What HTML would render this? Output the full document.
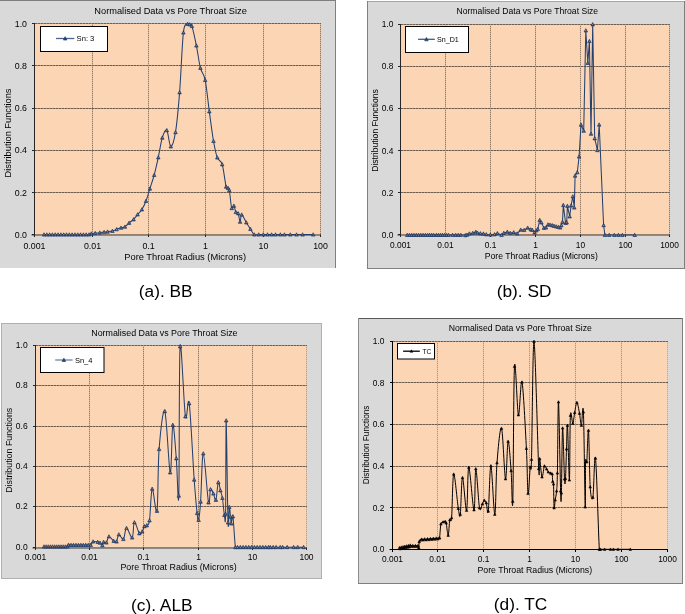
<!DOCTYPE html>
<html><head><meta charset="utf-8"><style>
html,body{margin:0;padding:0;background:#fff;}
body{width:685px;height:614px;overflow:hidden;}
svg{display:block;will-change:transform;}
text{font-family:"Liberation Sans", sans-serif;fill:#000;}
</style></head><body>
<svg width="685" height="614" viewBox="0 0 685 614">
<rect x="0" y="0" width="336" height="268" fill="#D9D9D9"/>
<rect x="0" y="0" width="336" height="1" fill="#7F7F7F"/>
<rect x="335" y="0" width="1" height="268" fill="#7F7F7F"/>
<rect x="35" y="23" width="286" height="211.5" fill="#FCD5B5"/>
<line x1="92.5" y1="23" x2="92.5" y2="234.5" stroke="#D2B598" stroke-width="1"/>
<line x1="92.5" y1="23" x2="92.5" y2="234.5" stroke="#927C68" stroke-width="1" stroke-dasharray="1 1"/>
<line x1="148.5" y1="23" x2="148.5" y2="234.5" stroke="#D2B598" stroke-width="1"/>
<line x1="148.5" y1="23" x2="148.5" y2="234.5" stroke="#927C68" stroke-width="1" stroke-dasharray="1 1"/>
<line x1="205.5" y1="23" x2="205.5" y2="234.5" stroke="#D2B598" stroke-width="1"/>
<line x1="205.5" y1="23" x2="205.5" y2="234.5" stroke="#927C68" stroke-width="1" stroke-dasharray="1 1"/>
<line x1="263.5" y1="23" x2="263.5" y2="234.5" stroke="#D2B598" stroke-width="1"/>
<line x1="263.5" y1="23" x2="263.5" y2="234.5" stroke="#927C68" stroke-width="1" stroke-dasharray="1 1"/>
<line x1="320.5" y1="23" x2="320.5" y2="234.5" stroke="#D2B598" stroke-width="1"/>
<line x1="320.5" y1="23" x2="320.5" y2="234.5" stroke="#927C68" stroke-width="1" stroke-dasharray="1 1"/>
<line x1="35" y1="192.5" x2="321" y2="192.5" stroke="#A88E78" stroke-width="1"/>
<line x1="35" y1="192.5" x2="321" y2="192.5" stroke="#6E5E50" stroke-width="1" stroke-dasharray="2 1"/>
<line x1="35" y1="150.5" x2="321" y2="150.5" stroke="#A88E78" stroke-width="1"/>
<line x1="35" y1="150.5" x2="321" y2="150.5" stroke="#6E5E50" stroke-width="1" stroke-dasharray="2 1"/>
<line x1="35" y1="108.5" x2="321" y2="108.5" stroke="#A88E78" stroke-width="1"/>
<line x1="35" y1="108.5" x2="321" y2="108.5" stroke="#6E5E50" stroke-width="1" stroke-dasharray="2 1"/>
<line x1="35" y1="65.5" x2="321" y2="65.5" stroke="#A88E78" stroke-width="1"/>
<line x1="35" y1="65.5" x2="321" y2="65.5" stroke="#6E5E50" stroke-width="1" stroke-dasharray="2 1"/>
<line x1="35" y1="23.5" x2="321" y2="23.5" stroke="#A88E78" stroke-width="1"/>
<line x1="35" y1="23.5" x2="321" y2="23.5" stroke="#6E5E50" stroke-width="1" stroke-dasharray="2 1"/>
<line x1="31.5" y1="234.5" x2="321" y2="234.5" stroke="#957E6A" stroke-width="1"/>
<line x1="31.5" y1="235.5" x2="321" y2="235.5" stroke="#8A8A8A" stroke-width="1"/>
<line x1="34.5" y1="23" x2="34.5" y2="237" stroke="#262626" stroke-width="1"/>
<line x1="32" y1="234.5" x2="34.5" y2="234.5" stroke="#262626" stroke-width="1"/>
<line x1="32" y1="192.5" x2="34.5" y2="192.5" stroke="#262626" stroke-width="1"/>
<line x1="32" y1="150.5" x2="34.5" y2="150.5" stroke="#262626" stroke-width="1"/>
<line x1="32" y1="108.5" x2="34.5" y2="108.5" stroke="#262626" stroke-width="1"/>
<line x1="32" y1="65.5" x2="34.5" y2="65.5" stroke="#262626" stroke-width="1"/>
<line x1="32" y1="23.5" x2="34.5" y2="23.5" stroke="#262626" stroke-width="1"/>
<line x1="92.5" y1="234.5" x2="92.5" y2="237" stroke="#262626" stroke-width="1"/>
<line x1="148.5" y1="234.5" x2="148.5" y2="237" stroke="#262626" stroke-width="1"/>
<line x1="205.5" y1="234.5" x2="205.5" y2="237" stroke="#262626" stroke-width="1"/>
<line x1="263.5" y1="234.5" x2="263.5" y2="237" stroke="#262626" stroke-width="1"/>
<line x1="320.5" y1="234.5" x2="320.5" y2="237" stroke="#262626" stroke-width="1"/>
<text x="27" y="237.85" font-size="8.8" text-anchor="end">0.0</text>
<text x="27" y="195.67" font-size="8.8" text-anchor="end">0.2</text>
<text x="27" y="153.49" font-size="8.8" text-anchor="end">0.4</text>
<text x="27" y="111.31" font-size="8.8" text-anchor="end">0.6</text>
<text x="27" y="69.13" font-size="8.8" text-anchor="end">0.8</text>
<text x="27" y="26.95" font-size="8.8" text-anchor="end">1.0</text>
<text x="34.5" y="248.7" font-size="8.8" text-anchor="middle">0.001</text>
<text x="92.5" y="248.7" font-size="8.8" text-anchor="middle">0.01</text>
<text x="148.5" y="248.7" font-size="8.8" text-anchor="middle">0.1</text>
<text x="205.5" y="248.7" font-size="8.8" text-anchor="middle">1</text>
<text x="263.5" y="248.7" font-size="8.8" text-anchor="middle">10</text>
<text x="320.5" y="248.7" font-size="8.8" text-anchor="middle">100</text>
<text x="170.6" y="14.1" font-size="9.25" text-anchor="middle">Normalised Data vs Pore Throat Size</text>
<text x="185.2" y="260.1" font-size="9.3" text-anchor="middle">Pore Throat Radius (Microns)</text>
<text transform="translate(10.9 133) rotate(-90)" font-size="9.25" text-anchor="middle">Distribution Functions</text>
<clipPath id="clip140513257198976"><rect x="34" y="22.5" width="288" height="213.0"/></clipPath>
<path d="M44 234.6 C44.47 234.6 45.88 234.6 46.81 234.6 C47.75 234.6 48.69 234.6 49.62 234.6 C50.56 234.6 51.5 234.6 52.44 234.6 C53.38 234.6 54.31 234.6 55.25 234.6 C56.19 234.6 57.12 234.6 58.06 234.6 C59 234.6 59.94 234.6 60.88 234.6 C61.81 234.6 62.75 234.6 63.69 234.6 C64.62 234.6 65.56 234.6 66.5 234.6 C67.44 234.6 68.38 234.6 69.31 234.6 C70.25 234.6 71.19 234.6 72.12 234.6 C73.06 234.6 74 234.6 74.94 234.6 C75.88 234.6 76.81 234.6 77.75 234.6 C78.69 234.6 79.62 234.6 80.56 234.6 C81.5 234.6 82.44 234.6 83.38 234.6 C84.31 234.6 85.25 234.6 86.19 234.6 C87.12 234.6 88.15 234.77 89 234.6 C89.85 234.43 90.27 233.83 91.3 233.6 C92.33 233.37 93.78 233.35 95.2 233.2 C96.62 233.05 98.32 232.88 99.8 232.7 C101.28 232.52 102.8 232.27 104.1 232.1 C105.4 231.93 106.22 231.88 107.6 231.7 C108.98 231.52 110.88 231.4 112.4 231 C113.92 230.6 115.27 229.83 116.7 229.3 C118.13 228.77 119.63 228.22 121 227.8 C122.37 227.38 123.55 227.62 124.9 226.8 C126.25 225.98 127.65 224.13 129.1 222.9 C130.55 221.67 132.18 220.8 133.6 219.4 C135.02 218 136.22 216.15 137.6 214.5 C138.98 212.85 140.5 211.75 141.9 209.5 C143.3 207.25 144.67 204.47 146 201 C147.33 197.53 148.53 193.03 149.9 188.7 C151.27 184.37 152.8 180.22 154.2 175 C155.6 169.78 156.95 163.62 158.3 157.4 C159.65 151.18 160.88 142.22 162.3 137.7 C163.72 133.18 165.38 128.83 166.8 130.3 C168.22 131.77 169.35 146.18 170.8 146.5 C172.25 146.82 174.03 141.22 175.5 132.2 C176.97 123.18 178.28 109 179.6 92.4 C180.92 75.8 182.07 44 183.4 32.6 C184.73 21.2 186.57 25.35 187.6 24 C188.63 22.65 188.88 24.15 189.6 24.5 C190.32 24.85 190.77 22.58 191.9 26.1 C193.03 29.62 194.98 38.63 196.4 45.6 C197.82 52.57 198.93 62.15 200.4 67.9 C201.87 73.65 203.72 72.85 205.2 80.1 C206.68 87.35 207.92 101.25 209.3 111.4 C210.68 121.55 212.17 133.3 213.5 141 C214.83 148.7 215.85 153.7 217.3 157.6 C218.75 161.5 220.73 159.55 222.2 164.4 C223.67 169.25 225.13 182.77 226.1 186.7 C227.07 190.63 227.47 187.45 228 188 C228.53 188.55 228.68 186.63 229.3 190 C229.92 193.37 230.93 205.57 231.7 208.2 C232.47 210.83 233.22 205.15 233.9 205.8 C234.58 206.45 235.08 210.83 235.8 212.1 C236.52 213.37 237.48 211.78 238.2 213.4 C238.92 215.02 239.52 221.58 240.1 221.8 C240.68 222.02 240.67 214.58 241.7 214.7 C242.73 214.82 244.85 220.12 246.3 222.5 C247.75 224.88 249.07 226.98 250.4 229 C251.73 231.02 252.92 233.67 254.3 234.6 C255.68 235.53 257.2 234.6 258.7 234.6 C260.2 234.6 261.83 234.6 263.3 234.6 C264.77 234.6 266.12 234.6 267.5 234.6 C268.88 234.6 270.27 234.6 271.6 234.6 C272.93 234.6 274.03 234.6 275.5 234.6 C276.97 234.6 278.9 234.6 280.4 234.6 C281.9 234.6 282.85 234.6 284.5 234.6 C286.15 234.6 288.3 234.6 290.3 234.6 C292.3 234.6 294.45 234.6 296.5 234.6 C298.55 234.6 299.82 234.6 302.6 234.6 C305.38 234.6 311.43 234.6 313.2 234.6" fill="none" stroke="#23416F" stroke-width="1.05" stroke-linejoin="round" clip-path="url(#clip140513257198976)"/>
<path d="M44 232.77L45.75 236.1L42.25 236.1Z" fill="#23416F" stroke="#23416F" stroke-width="0.7"/>
<rect x="43.5" y="234.3" width="1" height="1" fill="#C88A58"/>
<path d="M46.81 232.77L48.56 236.1L45.06 236.1Z" fill="#23416F" stroke="#23416F" stroke-width="0.7"/>
<rect x="46.31" y="234.3" width="1" height="1" fill="#C88A58"/>
<path d="M49.62 232.77L51.38 236.1L47.88 236.1Z" fill="#23416F" stroke="#23416F" stroke-width="0.7"/>
<rect x="49.12" y="234.3" width="1" height="1" fill="#C88A58"/>
<path d="M52.44 232.77L54.19 236.1L50.69 236.1Z" fill="#23416F" stroke="#23416F" stroke-width="0.7"/>
<rect x="51.94" y="234.3" width="1" height="1" fill="#C88A58"/>
<path d="M55.25 232.77L57 236.1L53.5 236.1Z" fill="#23416F" stroke="#23416F" stroke-width="0.7"/>
<rect x="54.75" y="234.3" width="1" height="1" fill="#C88A58"/>
<path d="M58.06 232.77L59.81 236.1L56.31 236.1Z" fill="#23416F" stroke="#23416F" stroke-width="0.7"/>
<rect x="57.56" y="234.3" width="1" height="1" fill="#C88A58"/>
<path d="M60.88 232.77L62.62 236.1L59.12 236.1Z" fill="#23416F" stroke="#23416F" stroke-width="0.7"/>
<rect x="60.38" y="234.3" width="1" height="1" fill="#C88A58"/>
<path d="M63.69 232.77L65.44 236.1L61.94 236.1Z" fill="#23416F" stroke="#23416F" stroke-width="0.7"/>
<rect x="63.19" y="234.3" width="1" height="1" fill="#C88A58"/>
<path d="M66.5 232.77L68.25 236.1L64.75 236.1Z" fill="#23416F" stroke="#23416F" stroke-width="0.7"/>
<rect x="66" y="234.3" width="1" height="1" fill="#C88A58"/>
<path d="M69.31 232.77L71.06 236.1L67.56 236.1Z" fill="#23416F" stroke="#23416F" stroke-width="0.7"/>
<rect x="68.81" y="234.3" width="1" height="1" fill="#C88A58"/>
<path d="M72.12 232.77L73.88 236.1L70.38 236.1Z" fill="#23416F" stroke="#23416F" stroke-width="0.7"/>
<rect x="71.62" y="234.3" width="1" height="1" fill="#C88A58"/>
<path d="M74.94 232.77L76.69 236.1L73.19 236.1Z" fill="#23416F" stroke="#23416F" stroke-width="0.7"/>
<rect x="74.44" y="234.3" width="1" height="1" fill="#C88A58"/>
<path d="M77.75 232.77L79.5 236.1L76 236.1Z" fill="#23416F" stroke="#23416F" stroke-width="0.7"/>
<rect x="77.25" y="234.3" width="1" height="1" fill="#C88A58"/>
<path d="M80.56 232.77L82.31 236.1L78.81 236.1Z" fill="#23416F" stroke="#23416F" stroke-width="0.7"/>
<rect x="80.06" y="234.3" width="1" height="1" fill="#C88A58"/>
<path d="M83.38 232.77L85.12 236.1L81.62 236.1Z" fill="#23416F" stroke="#23416F" stroke-width="0.7"/>
<rect x="82.88" y="234.3" width="1" height="1" fill="#C88A58"/>
<path d="M86.19 232.77L87.94 236.1L84.44 236.1Z" fill="#23416F" stroke="#23416F" stroke-width="0.7"/>
<rect x="85.69" y="234.3" width="1" height="1" fill="#C88A58"/>
<path d="M89 232.77L90.75 236.1L87.25 236.1Z" fill="#23416F" stroke="#23416F" stroke-width="0.7"/>
<rect x="88.5" y="234.3" width="1" height="1" fill="#C88A58"/>
<path d="M91.3 231.77L93.05 235.1L89.55 235.1Z" fill="#23416F" stroke="#23416F" stroke-width="0.7"/>
<rect x="90.8" y="233.3" width="1" height="1" fill="#C88A58"/>
<path d="M95.2 231.37L96.95 234.7L93.45 234.7Z" fill="#23416F" stroke="#23416F" stroke-width="0.7"/>
<rect x="94.7" y="232.9" width="1" height="1" fill="#C88A58"/>
<path d="M99.8 230.87L101.55 234.2L98.05 234.2Z" fill="#23416F" stroke="#23416F" stroke-width="0.7"/>
<rect x="99.3" y="232.4" width="1" height="1" fill="#C88A58"/>
<path d="M104.1 230.27L105.85 233.6L102.35 233.6Z" fill="#23416F" stroke="#23416F" stroke-width="0.7"/>
<rect x="103.6" y="231.8" width="1" height="1" fill="#C88A58"/>
<path d="M107.6 229.87L109.35 233.2L105.85 233.2Z" fill="#23416F" stroke="#23416F" stroke-width="0.7"/>
<rect x="107.1" y="231.4" width="1" height="1" fill="#C88A58"/>
<path d="M112.4 229.17L114.15 232.5L110.65 232.5Z" fill="#23416F" stroke="#23416F" stroke-width="0.7"/>
<rect x="111.9" y="230.7" width="1" height="1" fill="#C88A58"/>
<path d="M116.7 227.47L118.45 230.8L114.95 230.8Z" fill="#23416F" stroke="#23416F" stroke-width="0.7"/>
<rect x="116.2" y="229" width="1" height="1" fill="#C88A58"/>
<path d="M121 225.97L122.75 229.3L119.25 229.3Z" fill="#23416F" stroke="#23416F" stroke-width="0.7"/>
<rect x="120.5" y="227.5" width="1" height="1" fill="#C88A58"/>
<path d="M124.9 224.97L126.65 228.3L123.15 228.3Z" fill="#23416F" stroke="#23416F" stroke-width="0.7"/>
<rect x="124.4" y="226.5" width="1" height="1" fill="#C88A58"/>
<path d="M129.1 221.07L130.85 224.4L127.35 224.4Z" fill="#23416F" stroke="#23416F" stroke-width="0.7"/>
<rect x="128.6" y="222.6" width="1" height="1" fill="#C88A58"/>
<path d="M133.6 217.57L135.35 220.9L131.85 220.9Z" fill="#23416F" stroke="#23416F" stroke-width="0.7"/>
<rect x="133.1" y="219.1" width="1" height="1" fill="#C88A58"/>
<path d="M137.6 212.67L139.35 216L135.85 216Z" fill="#23416F" stroke="#23416F" stroke-width="0.7"/>
<rect x="137.1" y="214.2" width="1" height="1" fill="#C88A58"/>
<path d="M141.9 207.67L143.65 211L140.15 211Z" fill="#23416F" stroke="#23416F" stroke-width="0.7"/>
<rect x="141.4" y="209.2" width="1" height="1" fill="#C88A58"/>
<path d="M146 199.17L147.75 202.5L144.25 202.5Z" fill="#23416F" stroke="#23416F" stroke-width="0.7"/>
<rect x="145.5" y="200.7" width="1" height="1" fill="#C88A58"/>
<path d="M149.9 186.87L151.65 190.2L148.15 190.2Z" fill="#23416F" stroke="#23416F" stroke-width="0.7"/>
<rect x="149.4" y="188.4" width="1" height="1" fill="#C88A58"/>
<path d="M154.2 173.17L155.95 176.5L152.45 176.5Z" fill="#23416F" stroke="#23416F" stroke-width="0.7"/>
<rect x="153.7" y="174.7" width="1" height="1" fill="#C88A58"/>
<path d="M158.3 155.57L160.05 158.9L156.55 158.9Z" fill="#23416F" stroke="#23416F" stroke-width="0.7"/>
<rect x="157.8" y="157.1" width="1" height="1" fill="#C88A58"/>
<path d="M162.3 135.87L164.05 139.2L160.55 139.2Z" fill="#23416F" stroke="#23416F" stroke-width="0.7"/>
<rect x="161.8" y="137.4" width="1" height="1" fill="#C88A58"/>
<path d="M166.8 128.47L168.55 131.8L165.05 131.8Z" fill="#23416F" stroke="#23416F" stroke-width="0.7"/>
<rect x="166.3" y="130" width="1" height="1" fill="#C88A58"/>
<path d="M170.8 144.67L172.55 148L169.05 148Z" fill="#23416F" stroke="#23416F" stroke-width="0.7"/>
<rect x="170.3" y="146.2" width="1" height="1" fill="#C88A58"/>
<path d="M175.5 130.37L177.25 133.7L173.75 133.7Z" fill="#23416F" stroke="#23416F" stroke-width="0.7"/>
<rect x="175" y="131.9" width="1" height="1" fill="#C88A58"/>
<path d="M179.6 90.57L181.35 93.9L177.85 93.9Z" fill="#23416F" stroke="#23416F" stroke-width="0.7"/>
<rect x="179.1" y="92.1" width="1" height="1" fill="#C88A58"/>
<path d="M183.4 30.77L185.15 34.1L181.65 34.1Z" fill="#23416F" stroke="#23416F" stroke-width="0.7"/>
<rect x="182.9" y="32.3" width="1" height="1" fill="#C88A58"/>
<path d="M187.6 22.17L189.35 25.5L185.85 25.5Z" fill="#23416F" stroke="#23416F" stroke-width="0.7"/>
<rect x="187.1" y="23.7" width="1" height="1" fill="#C88A58"/>
<path d="M189.6 22.67L191.35 26L187.85 26Z" fill="#23416F" stroke="#23416F" stroke-width="0.7"/>
<rect x="189.1" y="24.2" width="1" height="1" fill="#C88A58"/>
<path d="M191.9 24.27L193.65 27.6L190.15 27.6Z" fill="#23416F" stroke="#23416F" stroke-width="0.7"/>
<rect x="191.4" y="25.8" width="1" height="1" fill="#C88A58"/>
<path d="M196.4 43.77L198.15 47.1L194.65 47.1Z" fill="#23416F" stroke="#23416F" stroke-width="0.7"/>
<rect x="195.9" y="45.3" width="1" height="1" fill="#C88A58"/>
<path d="M200.4 66.07L202.15 69.4L198.65 69.4Z" fill="#23416F" stroke="#23416F" stroke-width="0.7"/>
<rect x="199.9" y="67.6" width="1" height="1" fill="#C88A58"/>
<path d="M205.2 78.27L206.95 81.6L203.45 81.6Z" fill="#23416F" stroke="#23416F" stroke-width="0.7"/>
<rect x="204.7" y="79.8" width="1" height="1" fill="#C88A58"/>
<path d="M209.3 109.57L211.05 112.9L207.55 112.9Z" fill="#23416F" stroke="#23416F" stroke-width="0.7"/>
<rect x="208.8" y="111.1" width="1" height="1" fill="#C88A58"/>
<path d="M213.5 139.17L215.25 142.5L211.75 142.5Z" fill="#23416F" stroke="#23416F" stroke-width="0.7"/>
<rect x="213" y="140.7" width="1" height="1" fill="#C88A58"/>
<path d="M217.3 155.77L219.05 159.1L215.55 159.1Z" fill="#23416F" stroke="#23416F" stroke-width="0.7"/>
<rect x="216.8" y="157.3" width="1" height="1" fill="#C88A58"/>
<path d="M222.2 162.57L223.95 165.9L220.45 165.9Z" fill="#23416F" stroke="#23416F" stroke-width="0.7"/>
<rect x="221.7" y="164.1" width="1" height="1" fill="#C88A58"/>
<path d="M226.1 184.87L227.85 188.2L224.35 188.2Z" fill="#23416F" stroke="#23416F" stroke-width="0.7"/>
<rect x="225.6" y="186.4" width="1" height="1" fill="#C88A58"/>
<path d="M228 186.17L229.75 189.5L226.25 189.5Z" fill="#23416F" stroke="#23416F" stroke-width="0.7"/>
<rect x="227.5" y="187.7" width="1" height="1" fill="#C88A58"/>
<path d="M229.3 188.17L231.05 191.5L227.55 191.5Z" fill="#23416F" stroke="#23416F" stroke-width="0.7"/>
<rect x="228.8" y="189.7" width="1" height="1" fill="#C88A58"/>
<path d="M231.7 206.37L233.45 209.7L229.95 209.7Z" fill="#23416F" stroke="#23416F" stroke-width="0.7"/>
<rect x="231.2" y="207.9" width="1" height="1" fill="#C88A58"/>
<path d="M233.9 203.97L235.65 207.3L232.15 207.3Z" fill="#23416F" stroke="#23416F" stroke-width="0.7"/>
<rect x="233.4" y="205.5" width="1" height="1" fill="#C88A58"/>
<path d="M235.8 210.27L237.55 213.6L234.05 213.6Z" fill="#23416F" stroke="#23416F" stroke-width="0.7"/>
<rect x="235.3" y="211.8" width="1" height="1" fill="#C88A58"/>
<path d="M238.2 211.57L239.95 214.9L236.45 214.9Z" fill="#23416F" stroke="#23416F" stroke-width="0.7"/>
<rect x="237.7" y="213.1" width="1" height="1" fill="#C88A58"/>
<path d="M240.1 219.97L241.85 223.3L238.35 223.3Z" fill="#23416F" stroke="#23416F" stroke-width="0.7"/>
<rect x="239.6" y="221.5" width="1" height="1" fill="#C88A58"/>
<path d="M241.7 212.87L243.45 216.2L239.95 216.2Z" fill="#23416F" stroke="#23416F" stroke-width="0.7"/>
<rect x="241.2" y="214.4" width="1" height="1" fill="#C88A58"/>
<path d="M246.3 220.67L248.05 224L244.55 224Z" fill="#23416F" stroke="#23416F" stroke-width="0.7"/>
<rect x="245.8" y="222.2" width="1" height="1" fill="#C88A58"/>
<path d="M250.4 227.17L252.15 230.5L248.65 230.5Z" fill="#23416F" stroke="#23416F" stroke-width="0.7"/>
<rect x="249.9" y="228.7" width="1" height="1" fill="#C88A58"/>
<path d="M254.3 232.77L256.05 236.1L252.55 236.1Z" fill="#23416F" stroke="#23416F" stroke-width="0.7"/>
<rect x="253.8" y="234.3" width="1" height="1" fill="#C88A58"/>
<path d="M258.7 232.77L260.45 236.1L256.95 236.1Z" fill="#23416F" stroke="#23416F" stroke-width="0.7"/>
<rect x="258.2" y="234.3" width="1" height="1" fill="#C88A58"/>
<path d="M263.3 232.77L265.05 236.1L261.55 236.1Z" fill="#23416F" stroke="#23416F" stroke-width="0.7"/>
<rect x="262.8" y="234.3" width="1" height="1" fill="#C88A58"/>
<path d="M267.5 232.77L269.25 236.1L265.75 236.1Z" fill="#23416F" stroke="#23416F" stroke-width="0.7"/>
<rect x="267" y="234.3" width="1" height="1" fill="#C88A58"/>
<path d="M271.6 232.77L273.35 236.1L269.85 236.1Z" fill="#23416F" stroke="#23416F" stroke-width="0.7"/>
<rect x="271.1" y="234.3" width="1" height="1" fill="#C88A58"/>
<path d="M275.5 232.77L277.25 236.1L273.75 236.1Z" fill="#23416F" stroke="#23416F" stroke-width="0.7"/>
<rect x="275" y="234.3" width="1" height="1" fill="#C88A58"/>
<path d="M280.4 232.77L282.15 236.1L278.65 236.1Z" fill="#23416F" stroke="#23416F" stroke-width="0.7"/>
<rect x="279.9" y="234.3" width="1" height="1" fill="#C88A58"/>
<path d="M284.5 232.77L286.25 236.1L282.75 236.1Z" fill="#23416F" stroke="#23416F" stroke-width="0.7"/>
<rect x="284" y="234.3" width="1" height="1" fill="#C88A58"/>
<path d="M290.3 232.77L292.05 236.1L288.55 236.1Z" fill="#23416F" stroke="#23416F" stroke-width="0.7"/>
<rect x="289.8" y="234.3" width="1" height="1" fill="#C88A58"/>
<path d="M296.5 232.77L298.25 236.1L294.75 236.1Z" fill="#23416F" stroke="#23416F" stroke-width="0.7"/>
<rect x="296" y="234.3" width="1" height="1" fill="#C88A58"/>
<path d="M302.6 232.77L304.35 236.1L300.85 236.1Z" fill="#23416F" stroke="#23416F" stroke-width="0.7"/>
<rect x="302.1" y="234.3" width="1" height="1" fill="#C88A58"/>
<path d="M313.2 232.77L314.95 236.1L311.45 236.1Z" fill="#23416F" stroke="#23416F" stroke-width="0.7"/>
<rect x="312.7" y="234.3" width="1" height="1" fill="#C88A58"/>
<rect x="40.5" y="26.5" width="67" height="25" fill="#fff" stroke="#000" stroke-width="1"/>
<line x1="56" y1="38.5" x2="74.3" y2="38.5" stroke="#4A6590" stroke-width="1.3"/>
<path d="M65.15 36.67L66.9 40L63.4 40Z" fill="#23416F" stroke="#23416F" stroke-width="0.7"/>
<text x="76.6" y="41.4" font-size="7.6">Sn: 3</text>
<rect x="367" y="1" width="318" height="268" fill="#D9D9D9"/>
<rect x="367" y="1" width="318" height="1" fill="#A6A6A6"/>
<rect x="367" y="1" width="1" height="268" fill="#7F7F7F"/>
<rect x="684" y="1" width="1" height="268" fill="#7F7F7F"/>
<rect x="367" y="268" width="318" height="1" fill="#7F7F7F"/>
<rect x="401" y="24" width="269" height="211" fill="#FCD5B5"/>
<line x1="445.5" y1="24" x2="445.5" y2="235" stroke="#D2B598" stroke-width="1"/>
<line x1="445.5" y1="24" x2="445.5" y2="235" stroke="#927C68" stroke-width="1" stroke-dasharray="1 1"/>
<line x1="490.5" y1="24" x2="490.5" y2="235" stroke="#D2B598" stroke-width="1"/>
<line x1="490.5" y1="24" x2="490.5" y2="235" stroke="#927C68" stroke-width="1" stroke-dasharray="1 1"/>
<line x1="535.5" y1="24" x2="535.5" y2="235" stroke="#D2B598" stroke-width="1"/>
<line x1="535.5" y1="24" x2="535.5" y2="235" stroke="#927C68" stroke-width="1" stroke-dasharray="1 1"/>
<line x1="580.5" y1="24" x2="580.5" y2="235" stroke="#D2B598" stroke-width="1"/>
<line x1="580.5" y1="24" x2="580.5" y2="235" stroke="#927C68" stroke-width="1" stroke-dasharray="1 1"/>
<line x1="625.5" y1="24" x2="625.5" y2="235" stroke="#D2B598" stroke-width="1"/>
<line x1="625.5" y1="24" x2="625.5" y2="235" stroke="#927C68" stroke-width="1" stroke-dasharray="1 1"/>
<line x1="669.5" y1="24" x2="669.5" y2="235" stroke="#D2B598" stroke-width="1"/>
<line x1="669.5" y1="24" x2="669.5" y2="235" stroke="#927C68" stroke-width="1" stroke-dasharray="1 1"/>
<line x1="401" y1="192.5" x2="670" y2="192.5" stroke="#A88E78" stroke-width="1"/>
<line x1="401" y1="192.5" x2="670" y2="192.5" stroke="#6E5E50" stroke-width="1" stroke-dasharray="2 1"/>
<line x1="401" y1="150.5" x2="670" y2="150.5" stroke="#A88E78" stroke-width="1"/>
<line x1="401" y1="150.5" x2="670" y2="150.5" stroke="#6E5E50" stroke-width="1" stroke-dasharray="2 1"/>
<line x1="401" y1="108.5" x2="670" y2="108.5" stroke="#A88E78" stroke-width="1"/>
<line x1="401" y1="108.5" x2="670" y2="108.5" stroke="#6E5E50" stroke-width="1" stroke-dasharray="2 1"/>
<line x1="401" y1="66.5" x2="670" y2="66.5" stroke="#A88E78" stroke-width="1"/>
<line x1="401" y1="66.5" x2="670" y2="66.5" stroke="#6E5E50" stroke-width="1" stroke-dasharray="2 1"/>
<line x1="401" y1="24.5" x2="670" y2="24.5" stroke="#A88E78" stroke-width="1"/>
<line x1="401" y1="24.5" x2="670" y2="24.5" stroke="#6E5E50" stroke-width="1" stroke-dasharray="2 1"/>
<line x1="397.5" y1="234.5" x2="670" y2="234.5" stroke="#957E6A" stroke-width="1"/>
<line x1="397.5" y1="235.5" x2="670" y2="235.5" stroke="#8A8A8A" stroke-width="1"/>
<line x1="400.5" y1="24" x2="400.5" y2="237" stroke="#262626" stroke-width="1"/>
<line x1="398" y1="234.5" x2="400.5" y2="234.5" stroke="#262626" stroke-width="1"/>
<line x1="398" y1="192.5" x2="400.5" y2="192.5" stroke="#262626" stroke-width="1"/>
<line x1="398" y1="150.5" x2="400.5" y2="150.5" stroke="#262626" stroke-width="1"/>
<line x1="398" y1="108.5" x2="400.5" y2="108.5" stroke="#262626" stroke-width="1"/>
<line x1="398" y1="66.5" x2="400.5" y2="66.5" stroke="#262626" stroke-width="1"/>
<line x1="398" y1="24.5" x2="400.5" y2="24.5" stroke="#262626" stroke-width="1"/>
<line x1="445.5" y1="234.5" x2="445.5" y2="237" stroke="#262626" stroke-width="1"/>
<line x1="490.5" y1="234.5" x2="490.5" y2="237" stroke="#262626" stroke-width="1"/>
<line x1="535.5" y1="234.5" x2="535.5" y2="237" stroke="#262626" stroke-width="1"/>
<line x1="580.5" y1="234.5" x2="580.5" y2="237" stroke="#262626" stroke-width="1"/>
<line x1="625.5" y1="234.5" x2="625.5" y2="237" stroke="#262626" stroke-width="1"/>
<line x1="669.5" y1="234.5" x2="669.5" y2="237" stroke="#262626" stroke-width="1"/>
<text x="393.3" y="237.81" font-size="8.4" text-anchor="end">0.0</text>
<text x="393.3" y="195.67" font-size="8.4" text-anchor="end">0.2</text>
<text x="393.3" y="153.53" font-size="8.4" text-anchor="end">0.4</text>
<text x="393.3" y="111.39" font-size="8.4" text-anchor="end">0.6</text>
<text x="393.3" y="69.25" font-size="8.4" text-anchor="end">0.8</text>
<text x="393.3" y="27.11" font-size="8.4" text-anchor="end">1.0</text>
<text x="400.5" y="248.2" font-size="8.4" text-anchor="middle">0.001</text>
<text x="445.5" y="248.2" font-size="8.4" text-anchor="middle">0.01</text>
<text x="490.5" y="248.2" font-size="8.4" text-anchor="middle">0.1</text>
<text x="535.5" y="248.2" font-size="8.4" text-anchor="middle">1</text>
<text x="580.5" y="248.2" font-size="8.4" text-anchor="middle">10</text>
<text x="625.5" y="248.2" font-size="8.4" text-anchor="middle">100</text>
<text x="669.5" y="248.2" font-size="8.4" text-anchor="middle">1000</text>
<text x="527.3" y="14.1" font-size="8.6" text-anchor="middle">Normalised Data vs Pore Throat Size</text>
<text x="541.3" y="259.4" font-size="8.65" text-anchor="middle">Pore Throat Radius (Microns)</text>
<text transform="translate(377.9 130.5) rotate(-90)" font-size="8.6" text-anchor="middle">Distribution Functions</text>
<clipPath id="clip140513257193536"><rect x="400" y="23.5" width="271" height="212.0"/></clipPath>
<path d="M407.2 235 L409.47 235 L411.73 235 L414 235 L416.27 235 L418.53 235 L420.8 235 L423.07 235 L425.33 235 L427.6 235 L429.6 235 L431.7 235 L433.7 235 L436.3 235 L438.3 235 L440.4 235 L442.4 235 L444.5 235 L446.5 235 L448.5 235 L452.6 235 L455.7 235 L458.2 235 L460.8 235 L465.3 235.3 L467 234.8 L469.3 233.6 L472.8 233 L475.8 231.9 L477.5 232.8 L480.4 233.4 L483.4 233.7 L486.3 234.4 L490.4 234.7 L494.5 234.4 L497.4 233.3 L501.5 235.1 L503.8 233 L507.3 231.9 L510.2 233 L513.7 232.4 L517.2 233.6 L520.7 229.8 L524.2 230.1 L527.7 227.8 L530.7 229.5 L532.3 229.9 L534.6 232.5 L536.3 230.5 L537.8 229.1 L539.7 220 L541.4 222.5 L543.9 227.9 L546 227.6 L548 224.5 L550 224.8 L552.2 225.3 L554 225.9 L556.2 226.5 L558.3 227 L560.2 227.6 L561.4 225.3 L562.5 221.9 L563.3 205.1 L565.6 223 L566.7 222.5 L567.4 205.9 L569.7 216.5 L571.1 205.6 L572.8 196.5 L574.3 207.6 L575.1 175.7 L577.3 172.3 L579.1 156.6 L581 124.7 L583.7 130.8 L585.8 30.5 L587.8 63 L589.4 41.1 L591 133.8 L592.7 24.4 L594.7 138.4 L597.4 150.2 L599.2 124.7 L603.6 225.2 L604.9 235 L609.2 235 L614.3 235 L618.4 235 L622.4 235 L634.7 235" fill="none" stroke="#23416F" stroke-width="1.05" stroke-linejoin="round" clip-path="url(#clip140513257193536)"/>
<path d="M407.2 233.17L408.95 236.5L405.45 236.5Z" fill="#23416F" stroke="#23416F" stroke-width="0.7"/>
<rect x="406.7" y="234.7" width="1" height="1" fill="#C88A58"/>
<path d="M409.47 233.17L411.22 236.5L407.72 236.5Z" fill="#23416F" stroke="#23416F" stroke-width="0.7"/>
<rect x="408.97" y="234.7" width="1" height="1" fill="#C88A58"/>
<path d="M411.73 233.17L413.48 236.5L409.98 236.5Z" fill="#23416F" stroke="#23416F" stroke-width="0.7"/>
<rect x="411.23" y="234.7" width="1" height="1" fill="#C88A58"/>
<path d="M414 233.17L415.75 236.5L412.25 236.5Z" fill="#23416F" stroke="#23416F" stroke-width="0.7"/>
<rect x="413.5" y="234.7" width="1" height="1" fill="#C88A58"/>
<path d="M416.27 233.17L418.02 236.5L414.52 236.5Z" fill="#23416F" stroke="#23416F" stroke-width="0.7"/>
<rect x="415.77" y="234.7" width="1" height="1" fill="#C88A58"/>
<path d="M418.53 233.17L420.28 236.5L416.78 236.5Z" fill="#23416F" stroke="#23416F" stroke-width="0.7"/>
<rect x="418.03" y="234.7" width="1" height="1" fill="#C88A58"/>
<path d="M420.8 233.17L422.55 236.5L419.05 236.5Z" fill="#23416F" stroke="#23416F" stroke-width="0.7"/>
<rect x="420.3" y="234.7" width="1" height="1" fill="#C88A58"/>
<path d="M423.07 233.17L424.82 236.5L421.32 236.5Z" fill="#23416F" stroke="#23416F" stroke-width="0.7"/>
<rect x="422.57" y="234.7" width="1" height="1" fill="#C88A58"/>
<path d="M425.33 233.17L427.08 236.5L423.58 236.5Z" fill="#23416F" stroke="#23416F" stroke-width="0.7"/>
<rect x="424.83" y="234.7" width="1" height="1" fill="#C88A58"/>
<path d="M427.6 233.17L429.35 236.5L425.85 236.5Z" fill="#23416F" stroke="#23416F" stroke-width="0.7"/>
<rect x="427.1" y="234.7" width="1" height="1" fill="#C88A58"/>
<path d="M429.6 233.17L431.35 236.5L427.85 236.5Z" fill="#23416F" stroke="#23416F" stroke-width="0.7"/>
<rect x="429.1" y="234.7" width="1" height="1" fill="#C88A58"/>
<path d="M431.7 233.17L433.45 236.5L429.95 236.5Z" fill="#23416F" stroke="#23416F" stroke-width="0.7"/>
<rect x="431.2" y="234.7" width="1" height="1" fill="#C88A58"/>
<path d="M433.7 233.17L435.45 236.5L431.95 236.5Z" fill="#23416F" stroke="#23416F" stroke-width="0.7"/>
<rect x="433.2" y="234.7" width="1" height="1" fill="#C88A58"/>
<path d="M436.3 233.17L438.05 236.5L434.55 236.5Z" fill="#23416F" stroke="#23416F" stroke-width="0.7"/>
<rect x="435.8" y="234.7" width="1" height="1" fill="#C88A58"/>
<path d="M438.3 233.17L440.05 236.5L436.55 236.5Z" fill="#23416F" stroke="#23416F" stroke-width="0.7"/>
<rect x="437.8" y="234.7" width="1" height="1" fill="#C88A58"/>
<path d="M440.4 233.17L442.15 236.5L438.65 236.5Z" fill="#23416F" stroke="#23416F" stroke-width="0.7"/>
<rect x="439.9" y="234.7" width="1" height="1" fill="#C88A58"/>
<path d="M442.4 233.17L444.15 236.5L440.65 236.5Z" fill="#23416F" stroke="#23416F" stroke-width="0.7"/>
<rect x="441.9" y="234.7" width="1" height="1" fill="#C88A58"/>
<path d="M444.5 233.17L446.25 236.5L442.75 236.5Z" fill="#23416F" stroke="#23416F" stroke-width="0.7"/>
<rect x="444" y="234.7" width="1" height="1" fill="#C88A58"/>
<path d="M446.5 233.17L448.25 236.5L444.75 236.5Z" fill="#23416F" stroke="#23416F" stroke-width="0.7"/>
<rect x="446" y="234.7" width="1" height="1" fill="#C88A58"/>
<path d="M448.5 233.17L450.25 236.5L446.75 236.5Z" fill="#23416F" stroke="#23416F" stroke-width="0.7"/>
<rect x="448" y="234.7" width="1" height="1" fill="#C88A58"/>
<path d="M452.6 233.17L454.35 236.5L450.85 236.5Z" fill="#23416F" stroke="#23416F" stroke-width="0.7"/>
<rect x="452.1" y="234.7" width="1" height="1" fill="#C88A58"/>
<path d="M455.7 233.17L457.45 236.5L453.95 236.5Z" fill="#23416F" stroke="#23416F" stroke-width="0.7"/>
<rect x="455.2" y="234.7" width="1" height="1" fill="#C88A58"/>
<path d="M458.2 233.17L459.95 236.5L456.45 236.5Z" fill="#23416F" stroke="#23416F" stroke-width="0.7"/>
<rect x="457.7" y="234.7" width="1" height="1" fill="#C88A58"/>
<path d="M460.8 233.17L462.55 236.5L459.05 236.5Z" fill="#23416F" stroke="#23416F" stroke-width="0.7"/>
<rect x="460.3" y="234.7" width="1" height="1" fill="#C88A58"/>
<path d="M465.3 233.47L467.05 236.8L463.55 236.8Z" fill="#23416F" stroke="#23416F" stroke-width="0.7"/>
<rect x="464.8" y="235" width="1" height="1" fill="#C88A58"/>
<path d="M467 232.97L468.75 236.3L465.25 236.3Z" fill="#23416F" stroke="#23416F" stroke-width="0.7"/>
<rect x="466.5" y="234.5" width="1" height="1" fill="#C88A58"/>
<path d="M469.3 231.77L471.05 235.1L467.55 235.1Z" fill="#23416F" stroke="#23416F" stroke-width="0.7"/>
<rect x="468.8" y="233.3" width="1" height="1" fill="#C88A58"/>
<path d="M472.8 231.17L474.55 234.5L471.05 234.5Z" fill="#23416F" stroke="#23416F" stroke-width="0.7"/>
<rect x="472.3" y="232.7" width="1" height="1" fill="#C88A58"/>
<path d="M475.8 230.07L477.55 233.4L474.05 233.4Z" fill="#23416F" stroke="#23416F" stroke-width="0.7"/>
<rect x="475.3" y="231.6" width="1" height="1" fill="#C88A58"/>
<path d="M477.5 230.97L479.25 234.3L475.75 234.3Z" fill="#23416F" stroke="#23416F" stroke-width="0.7"/>
<rect x="477" y="232.5" width="1" height="1" fill="#C88A58"/>
<path d="M480.4 231.57L482.15 234.9L478.65 234.9Z" fill="#23416F" stroke="#23416F" stroke-width="0.7"/>
<rect x="479.9" y="233.1" width="1" height="1" fill="#C88A58"/>
<path d="M483.4 231.87L485.15 235.2L481.65 235.2Z" fill="#23416F" stroke="#23416F" stroke-width="0.7"/>
<rect x="482.9" y="233.4" width="1" height="1" fill="#C88A58"/>
<path d="M486.3 232.57L488.05 235.9L484.55 235.9Z" fill="#23416F" stroke="#23416F" stroke-width="0.7"/>
<rect x="485.8" y="234.1" width="1" height="1" fill="#C88A58"/>
<path d="M490.4 232.87L492.15 236.2L488.65 236.2Z" fill="#23416F" stroke="#23416F" stroke-width="0.7"/>
<rect x="489.9" y="234.4" width="1" height="1" fill="#C88A58"/>
<path d="M494.5 232.57L496.25 235.9L492.75 235.9Z" fill="#23416F" stroke="#23416F" stroke-width="0.7"/>
<rect x="494" y="234.1" width="1" height="1" fill="#C88A58"/>
<path d="M497.4 231.47L499.15 234.8L495.65 234.8Z" fill="#23416F" stroke="#23416F" stroke-width="0.7"/>
<rect x="496.9" y="233" width="1" height="1" fill="#C88A58"/>
<path d="M501.5 233.27L503.25 236.6L499.75 236.6Z" fill="#23416F" stroke="#23416F" stroke-width="0.7"/>
<rect x="501" y="234.8" width="1" height="1" fill="#C88A58"/>
<path d="M503.8 231.17L505.55 234.5L502.05 234.5Z" fill="#23416F" stroke="#23416F" stroke-width="0.7"/>
<rect x="503.3" y="232.7" width="1" height="1" fill="#C88A58"/>
<path d="M507.3 230.07L509.05 233.4L505.55 233.4Z" fill="#23416F" stroke="#23416F" stroke-width="0.7"/>
<rect x="506.8" y="231.6" width="1" height="1" fill="#C88A58"/>
<path d="M510.2 231.17L511.95 234.5L508.45 234.5Z" fill="#23416F" stroke="#23416F" stroke-width="0.7"/>
<rect x="509.7" y="232.7" width="1" height="1" fill="#C88A58"/>
<path d="M513.7 230.57L515.45 233.9L511.95 233.9Z" fill="#23416F" stroke="#23416F" stroke-width="0.7"/>
<rect x="513.2" y="232.1" width="1" height="1" fill="#C88A58"/>
<path d="M517.2 231.77L518.95 235.1L515.45 235.1Z" fill="#23416F" stroke="#23416F" stroke-width="0.7"/>
<rect x="516.7" y="233.3" width="1" height="1" fill="#C88A58"/>
<path d="M520.7 227.97L522.45 231.3L518.95 231.3Z" fill="#23416F" stroke="#23416F" stroke-width="0.7"/>
<rect x="520.2" y="229.5" width="1" height="1" fill="#C88A58"/>
<path d="M524.2 228.27L525.95 231.6L522.45 231.6Z" fill="#23416F" stroke="#23416F" stroke-width="0.7"/>
<rect x="523.7" y="229.8" width="1" height="1" fill="#C88A58"/>
<path d="M527.7 225.97L529.45 229.3L525.95 229.3Z" fill="#23416F" stroke="#23416F" stroke-width="0.7"/>
<rect x="527.2" y="227.5" width="1" height="1" fill="#C88A58"/>
<path d="M530.7 227.67L532.45 231L528.95 231Z" fill="#23416F" stroke="#23416F" stroke-width="0.7"/>
<rect x="530.2" y="229.2" width="1" height="1" fill="#C88A58"/>
<path d="M532.3 228.07L534.05 231.4L530.55 231.4Z" fill="#23416F" stroke="#23416F" stroke-width="0.7"/>
<rect x="531.8" y="229.6" width="1" height="1" fill="#C88A58"/>
<path d="M534.6 230.67L536.35 234L532.85 234Z" fill="#23416F" stroke="#23416F" stroke-width="0.7"/>
<rect x="534.1" y="232.2" width="1" height="1" fill="#C88A58"/>
<path d="M536.3 228.67L538.05 232L534.55 232Z" fill="#23416F" stroke="#23416F" stroke-width="0.7"/>
<rect x="535.8" y="230.2" width="1" height="1" fill="#C88A58"/>
<path d="M537.8 227.27L539.55 230.6L536.05 230.6Z" fill="#23416F" stroke="#23416F" stroke-width="0.7"/>
<rect x="537.3" y="228.8" width="1" height="1" fill="#C88A58"/>
<path d="M539.7 218.17L541.45 221.5L537.95 221.5Z" fill="#23416F" stroke="#23416F" stroke-width="0.7"/>
<rect x="539.2" y="219.7" width="1" height="1" fill="#C88A58"/>
<path d="M541.4 220.67L543.15 224L539.65 224Z" fill="#23416F" stroke="#23416F" stroke-width="0.7"/>
<rect x="540.9" y="222.2" width="1" height="1" fill="#C88A58"/>
<path d="M543.9 226.07L545.65 229.4L542.15 229.4Z" fill="#23416F" stroke="#23416F" stroke-width="0.7"/>
<rect x="543.4" y="227.6" width="1" height="1" fill="#C88A58"/>
<path d="M546 225.77L547.75 229.1L544.25 229.1Z" fill="#23416F" stroke="#23416F" stroke-width="0.7"/>
<rect x="545.5" y="227.3" width="1" height="1" fill="#C88A58"/>
<path d="M548 222.67L549.75 226L546.25 226Z" fill="#23416F" stroke="#23416F" stroke-width="0.7"/>
<rect x="547.5" y="224.2" width="1" height="1" fill="#C88A58"/>
<path d="M550 222.97L551.75 226.3L548.25 226.3Z" fill="#23416F" stroke="#23416F" stroke-width="0.7"/>
<rect x="549.5" y="224.5" width="1" height="1" fill="#C88A58"/>
<path d="M552.2 223.47L553.95 226.8L550.45 226.8Z" fill="#23416F" stroke="#23416F" stroke-width="0.7"/>
<rect x="551.7" y="225" width="1" height="1" fill="#C88A58"/>
<path d="M554 224.07L555.75 227.4L552.25 227.4Z" fill="#23416F" stroke="#23416F" stroke-width="0.7"/>
<rect x="553.5" y="225.6" width="1" height="1" fill="#C88A58"/>
<path d="M556.2 224.67L557.95 228L554.45 228Z" fill="#23416F" stroke="#23416F" stroke-width="0.7"/>
<rect x="555.7" y="226.2" width="1" height="1" fill="#C88A58"/>
<path d="M558.3 225.17L560.05 228.5L556.55 228.5Z" fill="#23416F" stroke="#23416F" stroke-width="0.7"/>
<rect x="557.8" y="226.7" width="1" height="1" fill="#C88A58"/>
<path d="M560.2 225.77L561.95 229.1L558.45 229.1Z" fill="#23416F" stroke="#23416F" stroke-width="0.7"/>
<rect x="559.7" y="227.3" width="1" height="1" fill="#C88A58"/>
<path d="M561.4 223.47L563.15 226.8L559.65 226.8Z" fill="#23416F" stroke="#23416F" stroke-width="0.7"/>
<rect x="560.9" y="225" width="1" height="1" fill="#C88A58"/>
<path d="M562.5 220.07L564.25 223.4L560.75 223.4Z" fill="#23416F" stroke="#23416F" stroke-width="0.7"/>
<rect x="562" y="221.6" width="1" height="1" fill="#C88A58"/>
<path d="M563.3 203.27L565.05 206.6L561.55 206.6Z" fill="#23416F" stroke="#23416F" stroke-width="0.7"/>
<rect x="562.8" y="204.8" width="1" height="1" fill="#C88A58"/>
<path d="M565.6 221.17L567.35 224.5L563.85 224.5Z" fill="#23416F" stroke="#23416F" stroke-width="0.7"/>
<rect x="565.1" y="222.7" width="1" height="1" fill="#C88A58"/>
<path d="M566.7 220.67L568.45 224L564.95 224Z" fill="#23416F" stroke="#23416F" stroke-width="0.7"/>
<rect x="566.2" y="222.2" width="1" height="1" fill="#C88A58"/>
<path d="M567.4 204.07L569.15 207.4L565.65 207.4Z" fill="#23416F" stroke="#23416F" stroke-width="0.7"/>
<rect x="566.9" y="205.6" width="1" height="1" fill="#C88A58"/>
<path d="M569.7 214.67L571.45 218L567.95 218Z" fill="#23416F" stroke="#23416F" stroke-width="0.7"/>
<rect x="569.2" y="216.2" width="1" height="1" fill="#C88A58"/>
<path d="M571.1 203.77L572.85 207.1L569.35 207.1Z" fill="#23416F" stroke="#23416F" stroke-width="0.7"/>
<rect x="570.6" y="205.3" width="1" height="1" fill="#C88A58"/>
<path d="M572.8 194.67L574.55 198L571.05 198Z" fill="#23416F" stroke="#23416F" stroke-width="0.7"/>
<rect x="572.3" y="196.2" width="1" height="1" fill="#C88A58"/>
<path d="M574.3 205.77L576.05 209.1L572.55 209.1Z" fill="#23416F" stroke="#23416F" stroke-width="0.7"/>
<rect x="573.8" y="207.3" width="1" height="1" fill="#C88A58"/>
<path d="M575.1 173.87L576.85 177.2L573.35 177.2Z" fill="#23416F" stroke="#23416F" stroke-width="0.7"/>
<rect x="574.6" y="175.4" width="1" height="1" fill="#C88A58"/>
<path d="M577.3 170.47L579.05 173.8L575.55 173.8Z" fill="#23416F" stroke="#23416F" stroke-width="0.7"/>
<rect x="576.8" y="172" width="1" height="1" fill="#C88A58"/>
<path d="M579.1 154.77L580.85 158.1L577.35 158.1Z" fill="#23416F" stroke="#23416F" stroke-width="0.7"/>
<rect x="578.6" y="156.3" width="1" height="1" fill="#C88A58"/>
<path d="M581 122.87L582.75 126.2L579.25 126.2Z" fill="#23416F" stroke="#23416F" stroke-width="0.7"/>
<rect x="580.5" y="124.4" width="1" height="1" fill="#C88A58"/>
<path d="M583.7 128.97L585.45 132.3L581.95 132.3Z" fill="#23416F" stroke="#23416F" stroke-width="0.7"/>
<rect x="583.2" y="130.5" width="1" height="1" fill="#C88A58"/>
<path d="M585.8 28.67L587.55 32L584.05 32Z" fill="#23416F" stroke="#23416F" stroke-width="0.7"/>
<rect x="585.3" y="30.2" width="1" height="1" fill="#C88A58"/>
<path d="M587.8 61.17L589.55 64.5L586.05 64.5Z" fill="#23416F" stroke="#23416F" stroke-width="0.7"/>
<rect x="587.3" y="62.7" width="1" height="1" fill="#C88A58"/>
<path d="M589.4 39.27L591.15 42.6L587.65 42.6Z" fill="#23416F" stroke="#23416F" stroke-width="0.7"/>
<rect x="588.9" y="40.8" width="1" height="1" fill="#C88A58"/>
<path d="M591 131.97L592.75 135.3L589.25 135.3Z" fill="#23416F" stroke="#23416F" stroke-width="0.7"/>
<rect x="590.5" y="133.5" width="1" height="1" fill="#C88A58"/>
<path d="M592.7 22.57L594.45 25.9L590.95 25.9Z" fill="#23416F" stroke="#23416F" stroke-width="0.7"/>
<rect x="592.2" y="24.1" width="1" height="1" fill="#C88A58"/>
<path d="M594.7 136.57L596.45 139.9L592.95 139.9Z" fill="#23416F" stroke="#23416F" stroke-width="0.7"/>
<rect x="594.2" y="138.1" width="1" height="1" fill="#C88A58"/>
<path d="M597.4 148.37L599.15 151.7L595.65 151.7Z" fill="#23416F" stroke="#23416F" stroke-width="0.7"/>
<rect x="596.9" y="149.9" width="1" height="1" fill="#C88A58"/>
<path d="M599.2 122.87L600.95 126.2L597.45 126.2Z" fill="#23416F" stroke="#23416F" stroke-width="0.7"/>
<rect x="598.7" y="124.4" width="1" height="1" fill="#C88A58"/>
<path d="M603.6 223.37L605.35 226.7L601.85 226.7Z" fill="#23416F" stroke="#23416F" stroke-width="0.7"/>
<rect x="603.1" y="224.9" width="1" height="1" fill="#C88A58"/>
<path d="M604.9 233.17L606.65 236.5L603.15 236.5Z" fill="#23416F" stroke="#23416F" stroke-width="0.7"/>
<rect x="604.4" y="234.7" width="1" height="1" fill="#C88A58"/>
<path d="M609.2 233.17L610.95 236.5L607.45 236.5Z" fill="#23416F" stroke="#23416F" stroke-width="0.7"/>
<rect x="608.7" y="234.7" width="1" height="1" fill="#C88A58"/>
<path d="M614.3 233.17L616.05 236.5L612.55 236.5Z" fill="#23416F" stroke="#23416F" stroke-width="0.7"/>
<rect x="613.8" y="234.7" width="1" height="1" fill="#C88A58"/>
<path d="M618.4 233.17L620.15 236.5L616.65 236.5Z" fill="#23416F" stroke="#23416F" stroke-width="0.7"/>
<rect x="617.9" y="234.7" width="1" height="1" fill="#C88A58"/>
<path d="M622.4 233.17L624.15 236.5L620.65 236.5Z" fill="#23416F" stroke="#23416F" stroke-width="0.7"/>
<rect x="621.9" y="234.7" width="1" height="1" fill="#C88A58"/>
<path d="M634.7 233.17L636.45 236.5L632.95 236.5Z" fill="#23416F" stroke="#23416F" stroke-width="0.7"/>
<rect x="634.2" y="234.7" width="1" height="1" fill="#C88A58"/>
<rect x="405.5" y="26.5" width="63" height="26" fill="#fff" stroke="#000" stroke-width="1"/>
<line x1="418.1" y1="39.3" x2="434.8" y2="39.3" stroke="#3E5B88" stroke-width="1.3"/>
<path d="M426.45 37.47L428.2 40.8L424.7 40.8Z" fill="#23416F" stroke="#23416F" stroke-width="0.7"/>
<text x="437.0" y="42.1" font-size="7.15">Sn_D1</text>
<rect x="1" y="323" width="321" height="256" fill="#D9D9D9"/>
<rect x="1" y="323" width="321" height="1" fill="#B0B0B0"/>
<rect x="1" y="323" width="1" height="256" fill="#B0B0B0"/>
<rect x="321" y="323" width="1" height="256" fill="#B0B0B0"/>
<rect x="1" y="578" width="321" height="1" fill="#B0B0B0"/>
<rect x="36" y="345" width="271" height="202.5" fill="#FCD5B5"/>
<line x1="89.5" y1="345" x2="89.5" y2="547.5" stroke="#D2B598" stroke-width="1"/>
<line x1="89.5" y1="345" x2="89.5" y2="547.5" stroke="#927C68" stroke-width="1" stroke-dasharray="1 1"/>
<line x1="143.5" y1="345" x2="143.5" y2="547.5" stroke="#D2B598" stroke-width="1"/>
<line x1="143.5" y1="345" x2="143.5" y2="547.5" stroke="#927C68" stroke-width="1" stroke-dasharray="1 1"/>
<line x1="198.5" y1="345" x2="198.5" y2="547.5" stroke="#D2B598" stroke-width="1"/>
<line x1="198.5" y1="345" x2="198.5" y2="547.5" stroke="#927C68" stroke-width="1" stroke-dasharray="1 1"/>
<line x1="252.5" y1="345" x2="252.5" y2="547.5" stroke="#D2B598" stroke-width="1"/>
<line x1="252.5" y1="345" x2="252.5" y2="547.5" stroke="#927C68" stroke-width="1" stroke-dasharray="1 1"/>
<line x1="306.5" y1="345" x2="306.5" y2="547.5" stroke="#E2C6AC" stroke-width="1"/>
<line x1="306.5" y1="345" x2="306.5" y2="547.5" stroke="#B8A08C" stroke-width="1" stroke-dasharray="1 1"/>
<line x1="36" y1="506.5" x2="307" y2="506.5" stroke="#A88E78" stroke-width="1"/>
<line x1="36" y1="506.5" x2="307" y2="506.5" stroke="#6E5E50" stroke-width="1" stroke-dasharray="2 1"/>
<line x1="36" y1="466.5" x2="307" y2="466.5" stroke="#A88E78" stroke-width="1"/>
<line x1="36" y1="466.5" x2="307" y2="466.5" stroke="#6E5E50" stroke-width="1" stroke-dasharray="2 1"/>
<line x1="36" y1="426.5" x2="307" y2="426.5" stroke="#A88E78" stroke-width="1"/>
<line x1="36" y1="426.5" x2="307" y2="426.5" stroke="#6E5E50" stroke-width="1" stroke-dasharray="2 1"/>
<line x1="36" y1="385.5" x2="307" y2="385.5" stroke="#A88E78" stroke-width="1"/>
<line x1="36" y1="385.5" x2="307" y2="385.5" stroke="#6E5E50" stroke-width="1" stroke-dasharray="2 1"/>
<line x1="36" y1="345.5" x2="307" y2="345.5" stroke="#A88E78" stroke-width="1"/>
<line x1="36" y1="345.5" x2="307" y2="345.5" stroke="#6E5E50" stroke-width="1" stroke-dasharray="2 1"/>
<line x1="32.5" y1="547.5" x2="307" y2="547.5" stroke="#957E6A" stroke-width="1"/>
<line x1="32.5" y1="548.5" x2="307" y2="548.5" stroke="#8A8A8A" stroke-width="1"/>
<line x1="35.5" y1="345" x2="35.5" y2="550" stroke="#262626" stroke-width="1"/>
<line x1="33" y1="547.5" x2="35.5" y2="547.5" stroke="#262626" stroke-width="1"/>
<line x1="33" y1="506.5" x2="35.5" y2="506.5" stroke="#262626" stroke-width="1"/>
<line x1="33" y1="466.5" x2="35.5" y2="466.5" stroke="#262626" stroke-width="1"/>
<line x1="33" y1="426.5" x2="35.5" y2="426.5" stroke="#262626" stroke-width="1"/>
<line x1="33" y1="385.5" x2="35.5" y2="385.5" stroke="#262626" stroke-width="1"/>
<line x1="33" y1="345.5" x2="35.5" y2="345.5" stroke="#262626" stroke-width="1"/>
<line x1="89.5" y1="547.5" x2="89.5" y2="550" stroke="#262626" stroke-width="1"/>
<line x1="143.5" y1="547.5" x2="143.5" y2="550" stroke="#262626" stroke-width="1"/>
<line x1="198.5" y1="547.5" x2="198.5" y2="550" stroke="#262626" stroke-width="1"/>
<line x1="252.5" y1="547.5" x2="252.5" y2="550" stroke="#262626" stroke-width="1"/>
<line x1="306.5" y1="547.5" x2="306.5" y2="550" stroke="#262626" stroke-width="1"/>
<text x="27.7" y="549.74" font-size="8.5" text-anchor="end">0.0</text>
<text x="27.7" y="509.4" font-size="8.5" text-anchor="end">0.2</text>
<text x="27.7" y="469.06" font-size="8.5" text-anchor="end">0.4</text>
<text x="27.7" y="428.72" font-size="8.5" text-anchor="end">0.6</text>
<text x="27.7" y="388.38" font-size="8.5" text-anchor="end">0.8</text>
<text x="27.7" y="348.04" font-size="8.5" text-anchor="end">1.0</text>
<text x="35.5" y="560" font-size="8.5" text-anchor="middle">0.001</text>
<text x="89.5" y="560" font-size="8.5" text-anchor="middle">0.01</text>
<text x="143.5" y="560" font-size="8.5" text-anchor="middle">0.1</text>
<text x="198.5" y="560" font-size="8.5" text-anchor="middle">1</text>
<text x="252.5" y="560" font-size="8.5" text-anchor="middle">10</text>
<text x="306.5" y="560" font-size="8.5" text-anchor="middle">100</text>
<text x="164.4" y="336.1" font-size="8.88" text-anchor="middle">Normalised Data vs Pore Throat Size</text>
<text x="178.5" y="570" font-size="8.9" text-anchor="middle">Pore Throat Radius (Microns)</text>
<text transform="translate(11.8 450.3) rotate(-90)" font-size="8.85" text-anchor="middle">Distribution Functions</text>
<clipPath id="clip140513257193664"><rect x="35" y="344.5" width="273" height="204.0"/></clipPath>
<path d="M44 546.6 C44.35 546.6 45.42 546.6 46.13 546.6 C46.84 546.6 47.55 546.6 48.25 546.6 C48.96 546.6 49.67 546.6 50.38 546.6 C51.09 546.6 51.8 546.6 52.51 546.6 C53.22 546.6 53.93 546.6 54.64 546.6 C55.35 546.6 56.05 546.6 56.76 546.6 C57.47 546.6 58.18 546.6 58.89 546.6 C59.6 546.6 60.31 546.6 61.02 546.6 C61.73 546.6 62.44 546.6 63.15 546.6 C63.85 546.6 64.56 546.6 65.27 546.6 C65.98 546.6 66.86 546.9 67.4 546.6 C67.94 546.3 67.9 545.07 68.5 544.8 C69.1 544.53 70.17 544.97 71 545 C71.83 545.03 72.64 545 73.46 545 C74.28 545 75.1 545 75.92 545 C76.75 545 77.57 545 78.39 545 C79.21 545 80.03 545 80.85 545 C81.67 545 82.49 545 83.31 545 C84.13 545 84.95 545 85.78 545 C86.6 545 87.42 545 88.24 545 C89.06 545 89.89 545.57 90.7 545 C91.51 544.43 91.93 542.1 93.1 541.6 C94.27 541.1 96.55 541.8 97.7 542 C98.85 542.2 99.22 542.25 100 542.8 C100.78 543.35 101.8 545.43 102.4 545.3 C103 545.17 102.93 542.45 103.6 542 C104.27 541.55 105.52 543.52 106.4 542.6 C107.28 541.68 107.68 536.77 108.9 536.5 C110.12 536.23 112.43 540.15 113.7 541 C114.97 541.85 115.65 542.68 116.5 541.6 C117.35 540.52 117.65 534.92 118.8 534.5 C119.95 534.08 122.12 540.17 123.4 539.1 C124.68 538.03 125.03 528.35 126.5 528.1 C127.97 527.85 130.88 538.55 132.2 537.6 C133.52 536.65 133.2 523.1 134.4 522.4 C135.6 521.7 138.1 531.87 139.4 533.4 C140.7 534.93 141.37 532.78 142.2 531.6 C143.03 530.42 143.63 527.33 144.4 526.3 C145.17 525.27 145.95 526.38 146.8 525.4 C147.65 524.42 148.6 526.5 149.5 520.4 C150.4 514.3 150.95 490.38 152.2 488.8 C153.45 487.22 155.85 517.52 157 510.9 C158.15 504.28 157.8 465.72 159.1 449.1 C160.4 432.48 162.95 407.3 164.8 411.2 C166.65 415.1 168.87 470.22 170.2 472.5 C171.53 474.78 171.78 427.25 172.8 424.9 C173.82 422.55 175.3 446.6 176.3 458.4 C177.3 470.2 178.17 514.37 178.8 495.7 C179.43 477.03 179 359.62 180.1 346.4 C181.2 333.18 183.88 406.9 185.4 416.4 C186.92 425.9 187.73 392.85 189.2 403.4 C190.67 413.95 192.88 461.42 194.2 479.7 C195.52 497.98 196.37 506.38 197.1 513.1 C197.83 519.82 198.02 521.9 198.6 520 C199.18 518.1 199.82 512.78 200.6 501.7 C201.38 490.62 201.98 453.37 203.3 453.5 C204.62 453.63 207.3 496.53 208.5 502.5 C209.7 508.47 209.68 490.78 210.5 489.3 C211.32 487.82 212.5 491.83 213.4 493.6 C214.3 495.37 215.08 501.78 215.9 499.9 C216.72 498.02 217.55 483.88 218.3 482.3 C219.05 480.72 219.72 487.78 220.4 490.4 C221.08 493.02 221.73 493.88 222.4 498 C223.07 502.12 223.87 512.47 224.4 515.1 C224.93 517.73 225.3 529.57 225.6 513.8 C225.9 498.03 225.8 419.05 226.2 420.5 C226.6 421.95 227.48 508.08 228 522.5 C228.52 536.92 228.88 507.95 229.3 507 C229.72 506.05 230.17 514.03 230.5 516.8 C230.83 519.57 230.9 523.67 231.3 523.6 C231.7 523.53 232.22 512.47 232.9 516.4 C233.58 520.33 234.63 542.07 235.4 547.2 C236.17 552.33 236.68 547.2 237.5 547.2 C238.32 547.2 239.38 547.2 240.32 547.2 C241.26 547.2 242.2 547.2 243.14 547.2 C244.08 547.2 245.02 547.2 245.95 547.2 C246.89 547.2 247.83 547.2 248.77 547.2 C249.71 547.2 250.65 547.2 251.59 547.2 C252.53 547.2 253.47 547.2 254.41 547.2 C255.35 547.2 256.29 547.2 257.23 547.2 C258.17 547.2 259.11 547.2 260.05 547.2 C260.98 547.2 261.92 547.2 262.86 547.2 C263.8 547.2 264.74 547.2 265.68 547.2 C266.62 547.2 267.73 547.2 268.5 547.2 C269.27 547.2 269.52 547.2 270.3 547.2 C271.08 547.2 272.23 547.2 273.2 547.2 C274.17 547.2 274.93 547.2 276.1 547.2 C277.27 547.2 279.12 547.2 280.2 547.2 C281.28 547.2 281.43 547.2 282.6 547.2 C283.77 547.2 285.37 547.2 287.2 547.2 C289.03 547.2 291.85 547.2 293.6 547.2 C295.35 547.2 296.03 547.2 297.7 547.2 C299.37 547.2 302.62 547.2 303.6 547.2" fill="none" stroke="#23416F" stroke-width="1.05" stroke-linejoin="round" clip-path="url(#clip140513257193664)"/>
<path d="M44 544.77L45.75 548.1L42.25 548.1Z" fill="#23416F" stroke="#23416F" stroke-width="0.7"/>
<rect x="43.5" y="546.3" width="1" height="1" fill="#C88A58"/>
<path d="M46.13 544.77L47.88 548.1L44.38 548.1Z" fill="#23416F" stroke="#23416F" stroke-width="0.7"/>
<rect x="45.63" y="546.3" width="1" height="1" fill="#C88A58"/>
<path d="M48.25 544.77L50 548.1L46.5 548.1Z" fill="#23416F" stroke="#23416F" stroke-width="0.7"/>
<rect x="47.75" y="546.3" width="1" height="1" fill="#C88A58"/>
<path d="M50.38 544.77L52.13 548.1L48.63 548.1Z" fill="#23416F" stroke="#23416F" stroke-width="0.7"/>
<rect x="49.88" y="546.3" width="1" height="1" fill="#C88A58"/>
<path d="M52.51 544.77L54.26 548.1L50.76 548.1Z" fill="#23416F" stroke="#23416F" stroke-width="0.7"/>
<rect x="52.01" y="546.3" width="1" height="1" fill="#C88A58"/>
<path d="M54.64 544.77L56.39 548.1L52.89 548.1Z" fill="#23416F" stroke="#23416F" stroke-width="0.7"/>
<rect x="54.14" y="546.3" width="1" height="1" fill="#C88A58"/>
<path d="M56.76 544.77L58.51 548.1L55.01 548.1Z" fill="#23416F" stroke="#23416F" stroke-width="0.7"/>
<rect x="56.26" y="546.3" width="1" height="1" fill="#C88A58"/>
<path d="M58.89 544.77L60.64 548.1L57.14 548.1Z" fill="#23416F" stroke="#23416F" stroke-width="0.7"/>
<rect x="58.39" y="546.3" width="1" height="1" fill="#C88A58"/>
<path d="M61.02 544.77L62.77 548.1L59.27 548.1Z" fill="#23416F" stroke="#23416F" stroke-width="0.7"/>
<rect x="60.52" y="546.3" width="1" height="1" fill="#C88A58"/>
<path d="M63.15 544.77L64.9 548.1L61.4 548.1Z" fill="#23416F" stroke="#23416F" stroke-width="0.7"/>
<rect x="62.65" y="546.3" width="1" height="1" fill="#C88A58"/>
<path d="M65.27 544.77L67.02 548.1L63.52 548.1Z" fill="#23416F" stroke="#23416F" stroke-width="0.7"/>
<rect x="64.77" y="546.3" width="1" height="1" fill="#C88A58"/>
<path d="M67.4 544.77L69.15 548.1L65.65 548.1Z" fill="#23416F" stroke="#23416F" stroke-width="0.7"/>
<rect x="66.9" y="546.3" width="1" height="1" fill="#C88A58"/>
<path d="M68.5 542.97L70.25 546.3L66.75 546.3Z" fill="#23416F" stroke="#23416F" stroke-width="0.7"/>
<rect x="68" y="544.5" width="1" height="1" fill="#C88A58"/>
<path d="M71 543.17L72.75 546.5L69.25 546.5Z" fill="#23416F" stroke="#23416F" stroke-width="0.7"/>
<rect x="70.5" y="544.7" width="1" height="1" fill="#C88A58"/>
<path d="M73.46 543.17L75.21 546.5L71.71 546.5Z" fill="#23416F" stroke="#23416F" stroke-width="0.7"/>
<rect x="72.96" y="544.7" width="1" height="1" fill="#C88A58"/>
<path d="M75.92 543.17L77.67 546.5L74.17 546.5Z" fill="#23416F" stroke="#23416F" stroke-width="0.7"/>
<rect x="75.42" y="544.7" width="1" height="1" fill="#C88A58"/>
<path d="M78.39 543.17L80.14 546.5L76.64 546.5Z" fill="#23416F" stroke="#23416F" stroke-width="0.7"/>
<rect x="77.89" y="544.7" width="1" height="1" fill="#C88A58"/>
<path d="M80.85 543.17L82.6 546.5L79.1 546.5Z" fill="#23416F" stroke="#23416F" stroke-width="0.7"/>
<rect x="80.35" y="544.7" width="1" height="1" fill="#C88A58"/>
<path d="M83.31 543.17L85.06 546.5L81.56 546.5Z" fill="#23416F" stroke="#23416F" stroke-width="0.7"/>
<rect x="82.81" y="544.7" width="1" height="1" fill="#C88A58"/>
<path d="M85.78 543.17L87.53 546.5L84.03 546.5Z" fill="#23416F" stroke="#23416F" stroke-width="0.7"/>
<rect x="85.28" y="544.7" width="1" height="1" fill="#C88A58"/>
<path d="M88.24 543.17L89.99 546.5L86.49 546.5Z" fill="#23416F" stroke="#23416F" stroke-width="0.7"/>
<rect x="87.74" y="544.7" width="1" height="1" fill="#C88A58"/>
<path d="M90.7 543.17L92.45 546.5L88.95 546.5Z" fill="#23416F" stroke="#23416F" stroke-width="0.7"/>
<rect x="90.2" y="544.7" width="1" height="1" fill="#C88A58"/>
<path d="M93.1 539.77L94.85 543.1L91.35 543.1Z" fill="#23416F" stroke="#23416F" stroke-width="0.7"/>
<rect x="92.6" y="541.3" width="1" height="1" fill="#C88A58"/>
<path d="M97.7 540.17L99.45 543.5L95.95 543.5Z" fill="#23416F" stroke="#23416F" stroke-width="0.7"/>
<rect x="97.2" y="541.7" width="1" height="1" fill="#C88A58"/>
<path d="M100 540.97L101.75 544.3L98.25 544.3Z" fill="#23416F" stroke="#23416F" stroke-width="0.7"/>
<rect x="99.5" y="542.5" width="1" height="1" fill="#C88A58"/>
<path d="M102.4 543.47L104.15 546.8L100.65 546.8Z" fill="#23416F" stroke="#23416F" stroke-width="0.7"/>
<rect x="101.9" y="545" width="1" height="1" fill="#C88A58"/>
<path d="M103.6 540.17L105.35 543.5L101.85 543.5Z" fill="#23416F" stroke="#23416F" stroke-width="0.7"/>
<rect x="103.1" y="541.7" width="1" height="1" fill="#C88A58"/>
<path d="M106.4 540.77L108.15 544.1L104.65 544.1Z" fill="#23416F" stroke="#23416F" stroke-width="0.7"/>
<rect x="105.9" y="542.3" width="1" height="1" fill="#C88A58"/>
<path d="M108.9 534.67L110.65 538L107.15 538Z" fill="#23416F" stroke="#23416F" stroke-width="0.7"/>
<rect x="108.4" y="536.2" width="1" height="1" fill="#C88A58"/>
<path d="M113.7 539.17L115.45 542.5L111.95 542.5Z" fill="#23416F" stroke="#23416F" stroke-width="0.7"/>
<rect x="113.2" y="540.7" width="1" height="1" fill="#C88A58"/>
<path d="M116.5 539.77L118.25 543.1L114.75 543.1Z" fill="#23416F" stroke="#23416F" stroke-width="0.7"/>
<rect x="116" y="541.3" width="1" height="1" fill="#C88A58"/>
<path d="M118.8 532.67L120.55 536L117.05 536Z" fill="#23416F" stroke="#23416F" stroke-width="0.7"/>
<rect x="118.3" y="534.2" width="1" height="1" fill="#C88A58"/>
<path d="M123.4 537.27L125.15 540.6L121.65 540.6Z" fill="#23416F" stroke="#23416F" stroke-width="0.7"/>
<rect x="122.9" y="538.8" width="1" height="1" fill="#C88A58"/>
<path d="M126.5 526.27L128.25 529.6L124.75 529.6Z" fill="#23416F" stroke="#23416F" stroke-width="0.7"/>
<rect x="126" y="527.8" width="1" height="1" fill="#C88A58"/>
<path d="M132.2 535.77L133.95 539.1L130.45 539.1Z" fill="#23416F" stroke="#23416F" stroke-width="0.7"/>
<rect x="131.7" y="537.3" width="1" height="1" fill="#C88A58"/>
<path d="M134.4 520.57L136.15 523.9L132.65 523.9Z" fill="#23416F" stroke="#23416F" stroke-width="0.7"/>
<rect x="133.9" y="522.1" width="1" height="1" fill="#C88A58"/>
<path d="M139.4 531.57L141.15 534.9L137.65 534.9Z" fill="#23416F" stroke="#23416F" stroke-width="0.7"/>
<rect x="138.9" y="533.1" width="1" height="1" fill="#C88A58"/>
<path d="M142.2 529.77L143.95 533.1L140.45 533.1Z" fill="#23416F" stroke="#23416F" stroke-width="0.7"/>
<rect x="141.7" y="531.3" width="1" height="1" fill="#C88A58"/>
<path d="M144.4 524.47L146.15 527.8L142.65 527.8Z" fill="#23416F" stroke="#23416F" stroke-width="0.7"/>
<rect x="143.9" y="526" width="1" height="1" fill="#C88A58"/>
<path d="M146.8 523.57L148.55 526.9L145.05 526.9Z" fill="#23416F" stroke="#23416F" stroke-width="0.7"/>
<rect x="146.3" y="525.1" width="1" height="1" fill="#C88A58"/>
<path d="M149.5 518.57L151.25 521.9L147.75 521.9Z" fill="#23416F" stroke="#23416F" stroke-width="0.7"/>
<rect x="149" y="520.1" width="1" height="1" fill="#C88A58"/>
<path d="M152.2 486.97L153.95 490.3L150.45 490.3Z" fill="#23416F" stroke="#23416F" stroke-width="0.7"/>
<rect x="151.7" y="488.5" width="1" height="1" fill="#C88A58"/>
<path d="M157 509.07L158.75 512.4L155.25 512.4Z" fill="#23416F" stroke="#23416F" stroke-width="0.7"/>
<rect x="156.5" y="510.6" width="1" height="1" fill="#C88A58"/>
<path d="M159.1 447.27L160.85 450.6L157.35 450.6Z" fill="#23416F" stroke="#23416F" stroke-width="0.7"/>
<rect x="158.6" y="448.8" width="1" height="1" fill="#C88A58"/>
<path d="M164.8 409.37L166.55 412.7L163.05 412.7Z" fill="#23416F" stroke="#23416F" stroke-width="0.7"/>
<rect x="164.3" y="410.9" width="1" height="1" fill="#C88A58"/>
<path d="M170.2 470.67L171.95 474L168.45 474Z" fill="#23416F" stroke="#23416F" stroke-width="0.7"/>
<rect x="169.7" y="472.2" width="1" height="1" fill="#C88A58"/>
<path d="M172.8 423.07L174.55 426.4L171.05 426.4Z" fill="#23416F" stroke="#23416F" stroke-width="0.7"/>
<rect x="172.3" y="424.6" width="1" height="1" fill="#C88A58"/>
<path d="M176.3 456.57L178.05 459.9L174.55 459.9Z" fill="#23416F" stroke="#23416F" stroke-width="0.7"/>
<rect x="175.8" y="458.1" width="1" height="1" fill="#C88A58"/>
<path d="M178.8 493.87L180.55 497.2L177.05 497.2Z" fill="#23416F" stroke="#23416F" stroke-width="0.7"/>
<rect x="178.3" y="495.4" width="1" height="1" fill="#C88A58"/>
<path d="M180.1 344.57L181.85 347.9L178.35 347.9Z" fill="#23416F" stroke="#23416F" stroke-width="0.7"/>
<rect x="179.6" y="346.1" width="1" height="1" fill="#C88A58"/>
<path d="M185.4 414.57L187.15 417.9L183.65 417.9Z" fill="#23416F" stroke="#23416F" stroke-width="0.7"/>
<rect x="184.9" y="416.1" width="1" height="1" fill="#C88A58"/>
<path d="M189.2 401.57L190.95 404.9L187.45 404.9Z" fill="#23416F" stroke="#23416F" stroke-width="0.7"/>
<rect x="188.7" y="403.1" width="1" height="1" fill="#C88A58"/>
<path d="M194.2 477.87L195.95 481.2L192.45 481.2Z" fill="#23416F" stroke="#23416F" stroke-width="0.7"/>
<rect x="193.7" y="479.4" width="1" height="1" fill="#C88A58"/>
<path d="M197.1 511.27L198.85 514.6L195.35 514.6Z" fill="#23416F" stroke="#23416F" stroke-width="0.7"/>
<rect x="196.6" y="512.8" width="1" height="1" fill="#C88A58"/>
<path d="M198.6 518.17L200.35 521.5L196.85 521.5Z" fill="#23416F" stroke="#23416F" stroke-width="0.7"/>
<rect x="198.1" y="519.7" width="1" height="1" fill="#C88A58"/>
<path d="M200.6 499.87L202.35 503.2L198.85 503.2Z" fill="#23416F" stroke="#23416F" stroke-width="0.7"/>
<rect x="200.1" y="501.4" width="1" height="1" fill="#C88A58"/>
<path d="M203.3 451.67L205.05 455L201.55 455Z" fill="#23416F" stroke="#23416F" stroke-width="0.7"/>
<rect x="202.8" y="453.2" width="1" height="1" fill="#C88A58"/>
<path d="M208.5 500.67L210.25 504L206.75 504Z" fill="#23416F" stroke="#23416F" stroke-width="0.7"/>
<rect x="208" y="502.2" width="1" height="1" fill="#C88A58"/>
<path d="M210.5 487.47L212.25 490.8L208.75 490.8Z" fill="#23416F" stroke="#23416F" stroke-width="0.7"/>
<rect x="210" y="489" width="1" height="1" fill="#C88A58"/>
<path d="M213.4 491.77L215.15 495.1L211.65 495.1Z" fill="#23416F" stroke="#23416F" stroke-width="0.7"/>
<rect x="212.9" y="493.3" width="1" height="1" fill="#C88A58"/>
<path d="M215.9 498.07L217.65 501.4L214.15 501.4Z" fill="#23416F" stroke="#23416F" stroke-width="0.7"/>
<rect x="215.4" y="499.6" width="1" height="1" fill="#C88A58"/>
<path d="M218.3 480.47L220.05 483.8L216.55 483.8Z" fill="#23416F" stroke="#23416F" stroke-width="0.7"/>
<rect x="217.8" y="482" width="1" height="1" fill="#C88A58"/>
<path d="M220.4 488.57L222.15 491.9L218.65 491.9Z" fill="#23416F" stroke="#23416F" stroke-width="0.7"/>
<rect x="219.9" y="490.1" width="1" height="1" fill="#C88A58"/>
<path d="M222.4 496.17L224.15 499.5L220.65 499.5Z" fill="#23416F" stroke="#23416F" stroke-width="0.7"/>
<rect x="221.9" y="497.7" width="1" height="1" fill="#C88A58"/>
<path d="M224.4 513.27L226.15 516.6L222.65 516.6Z" fill="#23416F" stroke="#23416F" stroke-width="0.7"/>
<rect x="223.9" y="514.8" width="1" height="1" fill="#C88A58"/>
<path d="M225.6 511.97L227.35 515.3L223.85 515.3Z" fill="#23416F" stroke="#23416F" stroke-width="0.7"/>
<rect x="225.1" y="513.5" width="1" height="1" fill="#C88A58"/>
<path d="M226.2 418.67L227.95 422L224.45 422Z" fill="#23416F" stroke="#23416F" stroke-width="0.7"/>
<rect x="225.7" y="420.2" width="1" height="1" fill="#C88A58"/>
<path d="M228 520.67L229.75 524L226.25 524Z" fill="#23416F" stroke="#23416F" stroke-width="0.7"/>
<rect x="227.5" y="522.2" width="1" height="1" fill="#C88A58"/>
<path d="M229.3 505.17L231.05 508.5L227.55 508.5Z" fill="#23416F" stroke="#23416F" stroke-width="0.7"/>
<rect x="228.8" y="506.7" width="1" height="1" fill="#C88A58"/>
<path d="M230.5 514.97L232.25 518.3L228.75 518.3Z" fill="#23416F" stroke="#23416F" stroke-width="0.7"/>
<rect x="230" y="516.5" width="1" height="1" fill="#C88A58"/>
<path d="M231.3 521.77L233.05 525.1L229.55 525.1Z" fill="#23416F" stroke="#23416F" stroke-width="0.7"/>
<rect x="230.8" y="523.3" width="1" height="1" fill="#C88A58"/>
<path d="M232.9 514.57L234.65 517.9L231.15 517.9Z" fill="#23416F" stroke="#23416F" stroke-width="0.7"/>
<rect x="232.4" y="516.1" width="1" height="1" fill="#C88A58"/>
<path d="M235.4 545.37L237.15 548.7L233.65 548.7Z" fill="#23416F" stroke="#23416F" stroke-width="0.7"/>
<rect x="234.9" y="546.9" width="1" height="1" fill="#C88A58"/>
<path d="M237.5 545.37L239.25 548.7L235.75 548.7Z" fill="#23416F" stroke="#23416F" stroke-width="0.7"/>
<rect x="237" y="546.9" width="1" height="1" fill="#C88A58"/>
<path d="M240.32 545.37L242.07 548.7L238.57 548.7Z" fill="#23416F" stroke="#23416F" stroke-width="0.7"/>
<rect x="239.82" y="546.9" width="1" height="1" fill="#C88A58"/>
<path d="M243.14 545.37L244.89 548.7L241.39 548.7Z" fill="#23416F" stroke="#23416F" stroke-width="0.7"/>
<rect x="242.64" y="546.9" width="1" height="1" fill="#C88A58"/>
<path d="M245.95 545.37L247.7 548.7L244.2 548.7Z" fill="#23416F" stroke="#23416F" stroke-width="0.7"/>
<rect x="245.45" y="546.9" width="1" height="1" fill="#C88A58"/>
<path d="M248.77 545.37L250.52 548.7L247.02 548.7Z" fill="#23416F" stroke="#23416F" stroke-width="0.7"/>
<rect x="248.27" y="546.9" width="1" height="1" fill="#C88A58"/>
<path d="M251.59 545.37L253.34 548.7L249.84 548.7Z" fill="#23416F" stroke="#23416F" stroke-width="0.7"/>
<rect x="251.09" y="546.9" width="1" height="1" fill="#C88A58"/>
<path d="M254.41 545.37L256.16 548.7L252.66 548.7Z" fill="#23416F" stroke="#23416F" stroke-width="0.7"/>
<rect x="253.91" y="546.9" width="1" height="1" fill="#C88A58"/>
<path d="M257.23 545.37L258.98 548.7L255.48 548.7Z" fill="#23416F" stroke="#23416F" stroke-width="0.7"/>
<rect x="256.73" y="546.9" width="1" height="1" fill="#C88A58"/>
<path d="M260.05 545.37L261.8 548.7L258.3 548.7Z" fill="#23416F" stroke="#23416F" stroke-width="0.7"/>
<rect x="259.55" y="546.9" width="1" height="1" fill="#C88A58"/>
<path d="M262.86 545.37L264.61 548.7L261.11 548.7Z" fill="#23416F" stroke="#23416F" stroke-width="0.7"/>
<rect x="262.36" y="546.9" width="1" height="1" fill="#C88A58"/>
<path d="M265.68 545.37L267.43 548.7L263.93 548.7Z" fill="#23416F" stroke="#23416F" stroke-width="0.7"/>
<rect x="265.18" y="546.9" width="1" height="1" fill="#C88A58"/>
<path d="M268.5 545.37L270.25 548.7L266.75 548.7Z" fill="#23416F" stroke="#23416F" stroke-width="0.7"/>
<rect x="268" y="546.9" width="1" height="1" fill="#C88A58"/>
<path d="M270.3 545.37L272.05 548.7L268.55 548.7Z" fill="#23416F" stroke="#23416F" stroke-width="0.7"/>
<rect x="269.8" y="546.9" width="1" height="1" fill="#C88A58"/>
<path d="M273.2 545.37L274.95 548.7L271.45 548.7Z" fill="#23416F" stroke="#23416F" stroke-width="0.7"/>
<rect x="272.7" y="546.9" width="1" height="1" fill="#C88A58"/>
<path d="M276.1 545.37L277.85 548.7L274.35 548.7Z" fill="#23416F" stroke="#23416F" stroke-width="0.7"/>
<rect x="275.6" y="546.9" width="1" height="1" fill="#C88A58"/>
<path d="M280.2 545.37L281.95 548.7L278.45 548.7Z" fill="#23416F" stroke="#23416F" stroke-width="0.7"/>
<rect x="279.7" y="546.9" width="1" height="1" fill="#C88A58"/>
<path d="M282.6 545.37L284.35 548.7L280.85 548.7Z" fill="#23416F" stroke="#23416F" stroke-width="0.7"/>
<rect x="282.1" y="546.9" width="1" height="1" fill="#C88A58"/>
<path d="M287.2 545.37L288.95 548.7L285.45 548.7Z" fill="#23416F" stroke="#23416F" stroke-width="0.7"/>
<rect x="286.7" y="546.9" width="1" height="1" fill="#C88A58"/>
<path d="M293.6 545.37L295.35 548.7L291.85 548.7Z" fill="#23416F" stroke="#23416F" stroke-width="0.7"/>
<rect x="293.1" y="546.9" width="1" height="1" fill="#C88A58"/>
<path d="M297.7 545.37L299.45 548.7L295.95 548.7Z" fill="#23416F" stroke="#23416F" stroke-width="0.7"/>
<rect x="297.2" y="546.9" width="1" height="1" fill="#C88A58"/>
<path d="M303.6 545.37L305.35 548.7L301.85 548.7Z" fill="#23416F" stroke="#23416F" stroke-width="0.7"/>
<rect x="303.1" y="546.9" width="1" height="1" fill="#C88A58"/>
<rect x="40.5" y="347.5" width="63.5" height="25" fill="#fff" stroke="#000" stroke-width="1"/>
<line x1="55.2" y1="360" x2="72.6" y2="360" stroke="#6F84A6" stroke-width="1.3"/>
<path d="M63.9 358.17L65.65 361.5L62.15 361.5Z" fill="#23416F" stroke="#23416F" stroke-width="0.7"/>
<text x="74.9" y="362.5" font-size="7.5">Sn_4</text>
<rect x="358" y="318" width="325" height="266" fill="#D9D9D9"/>
<rect x="358" y="318" width="325" height="1" fill="#595959"/>
<rect x="358" y="318" width="1" height="266" fill="#8C8C8C"/>
<rect x="682" y="318" width="1" height="266" fill="#7F7F7F"/>
<rect x="358" y="583" width="325" height="1" fill="#7F7F7F"/>
<rect x="393" y="341" width="275" height="208.5" fill="#FCD5B5"/>
<line x1="437.5" y1="341" x2="437.5" y2="549.5" stroke="#E0C2A6" stroke-width="1"/>
<line x1="437.5" y1="341" x2="437.5" y2="549.5" stroke="#B09882" stroke-width="1" stroke-dasharray="1 1"/>
<line x1="483.5" y1="341" x2="483.5" y2="549.5" stroke="#E0C2A6" stroke-width="1"/>
<line x1="483.5" y1="341" x2="483.5" y2="549.5" stroke="#B09882" stroke-width="1" stroke-dasharray="1 1"/>
<line x1="529.5" y1="341" x2="529.5" y2="549.5" stroke="#E0C2A6" stroke-width="1"/>
<line x1="529.5" y1="341" x2="529.5" y2="549.5" stroke="#B09882" stroke-width="1" stroke-dasharray="1 1"/>
<line x1="575.5" y1="341" x2="575.5" y2="549.5" stroke="#E0C2A6" stroke-width="1"/>
<line x1="575.5" y1="341" x2="575.5" y2="549.5" stroke="#B09882" stroke-width="1" stroke-dasharray="1 1"/>
<line x1="621.5" y1="341" x2="621.5" y2="549.5" stroke="#E0C2A6" stroke-width="1"/>
<line x1="621.5" y1="341" x2="621.5" y2="549.5" stroke="#B09882" stroke-width="1" stroke-dasharray="1 1"/>
<line x1="667.5" y1="341" x2="667.5" y2="549.5" stroke="#E6CAB0" stroke-width="1"/>
<line x1="667.5" y1="341" x2="667.5" y2="549.5" stroke="#C4AC96" stroke-width="1" stroke-dasharray="1 1"/>
<line x1="393" y1="507.5" x2="668" y2="507.5" stroke="#A88E78" stroke-width="1"/>
<line x1="393" y1="507.5" x2="668" y2="507.5" stroke="#6E5E50" stroke-width="1" stroke-dasharray="2 1"/>
<line x1="393" y1="466.5" x2="668" y2="466.5" stroke="#A88E78" stroke-width="1"/>
<line x1="393" y1="466.5" x2="668" y2="466.5" stroke="#6E5E50" stroke-width="1" stroke-dasharray="2 1"/>
<line x1="393" y1="424.5" x2="668" y2="424.5" stroke="#A88E78" stroke-width="1"/>
<line x1="393" y1="424.5" x2="668" y2="424.5" stroke="#6E5E50" stroke-width="1" stroke-dasharray="2 1"/>
<line x1="393" y1="382.5" x2="668" y2="382.5" stroke="#A88E78" stroke-width="1"/>
<line x1="393" y1="382.5" x2="668" y2="382.5" stroke="#6E5E50" stroke-width="1" stroke-dasharray="2 1"/>
<line x1="393" y1="341.5" x2="668" y2="341.5" stroke="#A88E78" stroke-width="1"/>
<line x1="393" y1="341.5" x2="668" y2="341.5" stroke="#6E5E50" stroke-width="1" stroke-dasharray="2 1"/>
<line x1="389.5" y1="549.5" x2="668" y2="549.5" stroke="#000000" stroke-width="1"/>
<line x1="392.5" y1="341" x2="392.5" y2="552" stroke="#000000" stroke-width="1"/>
<line x1="390" y1="549.5" x2="392.5" y2="549.5" stroke="#000000" stroke-width="1"/>
<line x1="390" y1="507.5" x2="392.5" y2="507.5" stroke="#000000" stroke-width="1"/>
<line x1="390" y1="466.5" x2="392.5" y2="466.5" stroke="#000000" stroke-width="1"/>
<line x1="390" y1="424.5" x2="392.5" y2="424.5" stroke="#000000" stroke-width="1"/>
<line x1="390" y1="382.5" x2="392.5" y2="382.5" stroke="#000000" stroke-width="1"/>
<line x1="390" y1="341.5" x2="392.5" y2="341.5" stroke="#000000" stroke-width="1"/>
<line x1="437.5" y1="549.5" x2="437.5" y2="552" stroke="#000000" stroke-width="1"/>
<line x1="483.5" y1="549.5" x2="483.5" y2="552" stroke="#000000" stroke-width="1"/>
<line x1="529.5" y1="549.5" x2="529.5" y2="552" stroke="#000000" stroke-width="1"/>
<line x1="575.5" y1="549.5" x2="575.5" y2="552" stroke="#000000" stroke-width="1"/>
<line x1="621.5" y1="549.5" x2="621.5" y2="552" stroke="#000000" stroke-width="1"/>
<line x1="667.5" y1="549.5" x2="667.5" y2="552" stroke="#000000" stroke-width="1"/>
<text x="384.3" y="552.41" font-size="8.4" text-anchor="end">0.0</text>
<text x="384.3" y="510.73" font-size="8.4" text-anchor="end">0.2</text>
<text x="384.3" y="469.05" font-size="8.4" text-anchor="end">0.4</text>
<text x="384.3" y="427.37" font-size="8.4" text-anchor="end">0.6</text>
<text x="384.3" y="385.69" font-size="8.4" text-anchor="end">0.8</text>
<text x="384.3" y="344.01" font-size="8.4" text-anchor="end">1.0</text>
<text x="392.5" y="561.6" font-size="8.4" text-anchor="middle">0.001</text>
<text x="437.5" y="561.6" font-size="8.4" text-anchor="middle">0.01</text>
<text x="483.5" y="561.6" font-size="8.4" text-anchor="middle">0.1</text>
<text x="529.5" y="561.6" font-size="8.4" text-anchor="middle">1</text>
<text x="575.5" y="561.6" font-size="8.4" text-anchor="middle">10</text>
<text x="621.5" y="561.6" font-size="8.4" text-anchor="middle">100</text>
<text x="667.5" y="561.6" font-size="8.4" text-anchor="middle">1000</text>
<text x="520.3" y="330.9" font-size="8.7" text-anchor="middle">Normalised Data vs Pore Throat Size</text>
<text x="534.8" y="573.2" font-size="8.76" text-anchor="middle">Pore Throat Radius (Microns)</text>
<text transform="translate(368.9 445) rotate(-90)" font-size="8.2" text-anchor="middle">Distribution Functions</text>
<clipPath id="clip140513257193600"><rect x="392" y="340.5" width="277" height="210.0"/></clipPath>
<path d="M399.5 547.6 C399.65 547.8 400.1 548.87 400.4 548.8 C400.7 548.73 401 547.27 401.3 547.2 C401.6 547.13 401.9 548.47 402.2 548.4 C402.5 548.33 402.8 546.87 403.1 546.8 C403.4 546.73 403.7 548.07 404 548 C404.3 547.93 404.6 546.47 404.9 546.4 C405.2 546.33 405.5 547.67 405.8 547.6 C406.1 547.53 406.4 546.07 406.7 546 C407 545.93 407.3 547.27 407.6 547.2 C407.9 547.13 408.2 545.67 408.5 545.6 C408.8 545.53 409.1 546.87 409.4 546.8 C409.7 546.73 409.95 545.25 410.3 545.2 C410.65 545.15 411.08 546.43 411.5 546.5 C411.92 546.57 412.37 545.6 412.8 545.6 C413.23 545.6 413.67 546.5 414.1 546.5 C414.53 546.5 414.97 545.6 415.4 545.6 C415.83 545.6 416.27 546.5 416.7 546.5 C417.13 546.5 417.65 545.38 418 545.6 C418.35 545.82 418.6 548.47 418.8 547.8 C419 547.13 418.95 542.87 419.2 541.6 C419.45 540.33 419.87 540.6 420.3 540.2 C420.73 539.8 421.32 539.23 421.8 539.2 C422.28 539.17 422.73 540.03 423.2 540 C423.67 539.97 424.12 539.03 424.6 539 C425.08 538.97 425.62 539.83 426.1 539.8 C426.58 539.77 427.02 538.83 427.5 538.8 C427.98 538.77 428.52 539.63 429 539.6 C429.48 539.57 429.92 538.63 430.4 538.6 C430.88 538.57 431.42 539.43 431.9 539.4 C432.38 539.37 432.82 538.43 433.3 538.4 C433.78 538.37 434.32 539.23 434.8 539.2 C435.28 539.17 435.72 538.23 436.2 538.2 C436.68 538.17 437.22 539.03 437.7 539 C438.18 538.97 438.78 538.17 439.1 538 C439.42 537.83 439.3 540.33 439.6 538 C439.9 535.67 440.32 526.67 440.9 524 C441.48 521.33 442.38 522.42 443.1 522 C443.82 521.58 444.68 521.33 445.2 521.5 C445.72 521.67 445.7 520.7 446.2 523 C446.7 525.3 447.6 535.82 448.2 535.3 C448.8 534.78 449.23 522.82 449.8 519.9 C450.37 516.98 450.95 525.42 451.6 517.8 C452.25 510.18 452.58 475.77 453.7 474.2 C454.82 472.63 457.2 501.72 458.3 508.4 C459.4 515.08 459.6 519.43 460.3 514.3 C461 509.17 461.45 478.27 462.5 477.6 C463.55 476.93 465.55 512.02 466.6 510.3 C467.65 508.58 467.57 467.37 468.8 467.3 C470.03 467.23 472.83 509.65 474 509.9 C475.17 510.15 474.88 469.13 475.8 468.8 C476.72 468.47 478.4 502.05 479.5 507.9 C480.6 513.75 481.6 505.17 482.4 503.9 C483.2 502.63 483.65 500.47 484.3 500.3 C484.95 500.13 485.63 501.1 486.3 502.9 C486.97 504.7 487.53 517.28 488.3 511.1 C489.07 504.92 489.82 465.27 490.9 465.8 C491.98 466.33 493.78 514.8 494.8 514.3 C495.82 513.8 495.88 477.13 497 462.8 C498.12 448.47 500.08 425.62 501.5 428.3 C502.92 430.98 504.4 476.73 505.5 478.9 C506.6 481.07 507.17 442.67 508.1 441.3 C509.03 439.93 510.32 460.7 511.1 470.7 C511.88 480.7 512.23 518.7 512.8 501.3 C513.37 483.9 513.57 380.7 514.5 366.3 C515.43 351.9 517.15 412.27 518.4 414.9 C519.65 417.53 520.67 376.52 522 382.1 C523.33 387.68 525.4 429.83 526.4 448.4 C527.4 466.97 527.37 490.37 528 493.5 C528.63 496.63 529.62 472.9 530.2 467.2 C530.78 461.5 530.87 480.27 531.5 459.3 C532.13 438.33 532.8 339.85 534 341.4 C535.2 342.95 537.75 449.05 538.7 468.6 C539.65 488.15 539.15 457.3 539.7 458.7 C540.25 460.1 541.22 475.78 542 477 C542.78 478.22 543.63 467.33 544.4 466 C545.17 464.67 545.95 468 546.6 469 C547.25 470 547.63 471.3 548.3 472 C548.97 472.7 549.95 472.87 550.6 473.2 C551.25 473.53 551.85 472.62 552.2 474 C552.55 475.38 552.48 479.83 552.7 481.5 C552.92 483.17 553.27 479.6 553.5 484 C553.73 488.4 553.82 505.23 554.1 507.9 C554.38 510.57 554.78 502.82 555.2 500 C555.62 497.18 556.23 495.5 556.6 491 C556.97 486.5 557.08 487.83 557.4 473 C557.72 458.17 557.97 399 558.5 402 C559.03 405 560.12 475.83 560.6 491 C561.08 506.17 561.07 503.5 561.4 493 C561.73 482.5 562.08 430.33 562.6 428 C563.12 425.67 564.02 470.57 564.5 479 C564.98 487.43 565.17 483.6 565.5 478.6 C565.83 473.6 566.17 457.87 566.5 449 C566.83 440.13 567.02 420.23 567.5 425.4 C567.98 430.57 568.92 481.67 569.4 480 C569.88 478.33 569.83 424.83 570.4 415.4 C570.97 405.97 572.08 423.87 572.8 423.4 C573.52 422.93 574.02 416.08 574.7 412.6 C575.38 409.12 576.1 402.38 576.9 402.5 C577.7 402.62 578.75 409.48 579.5 413.3 C580.25 417.12 580.75 425.62 581.4 425.4 C582.05 425.18 582.77 398.4 583.4 412 C584.03 425.6 584.83 498.75 585.2 507 C585.57 515.25 585.33 469.03 585.6 461.5 C585.87 453.97 586.32 467 586.8 461.8 C587.28 456.6 587.93 426.12 588.5 430.3 C589.07 434.48 589.47 475.73 590.2 486.9 C590.93 498.07 592.02 502.08 592.9 497.3 C593.78 492.52 594.43 449.53 595.5 458.2 C596.57 466.87 598.47 534.12 599.3 549.3 C600.13 564.48 599.62 549.3 600.5 549.3 C601.38 549.3 602.95 549.3 604.6 549.3 C606.25 549.3 608.93 549.3 610.4 549.3 C611.87 549.3 612.13 549.3 613.4 549.3 C614.67 549.3 615.18 549.3 618 549.3 C620.82 549.3 628.25 549.3 630.3 549.3" fill="none" stroke="#000000" stroke-width="1.0" stroke-linejoin="round" clip-path="url(#clip140513257193600)"/>
<path d="M399.5 546.24L400.8 548.71L398.2 548.71Z" fill="#000" stroke="#000" stroke-width="0.5"/>
<path d="M400.4 547.44L401.7 549.91L399.1 549.91Z" fill="#000" stroke="#000" stroke-width="0.5"/>
<path d="M401.3 545.84L402.6 548.31L400 548.31Z" fill="#000" stroke="#000" stroke-width="0.5"/>
<path d="M402.2 547.04L403.5 549.51L400.9 549.51Z" fill="#000" stroke="#000" stroke-width="0.5"/>
<path d="M403.1 545.44L404.4 547.91L401.8 547.91Z" fill="#000" stroke="#000" stroke-width="0.5"/>
<path d="M404 546.64L405.3 549.11L402.7 549.11Z" fill="#000" stroke="#000" stroke-width="0.5"/>
<path d="M404.9 545.04L406.2 547.51L403.6 547.51Z" fill="#000" stroke="#000" stroke-width="0.5"/>
<path d="M405.8 546.24L407.1 548.71L404.5 548.71Z" fill="#000" stroke="#000" stroke-width="0.5"/>
<path d="M406.7 544.64L408 547.11L405.4 547.11Z" fill="#000" stroke="#000" stroke-width="0.5"/>
<path d="M407.6 545.84L408.9 548.31L406.3 548.31Z" fill="#000" stroke="#000" stroke-width="0.5"/>
<path d="M408.5 544.24L409.8 546.71L407.2 546.71Z" fill="#000" stroke="#000" stroke-width="0.5"/>
<path d="M409.4 545.44L410.7 547.91L408.1 547.91Z" fill="#000" stroke="#000" stroke-width="0.5"/>
<path d="M410.3 543.84L411.6 546.31L409 546.31Z" fill="#000" stroke="#000" stroke-width="0.5"/>
<path d="M411.5 545.14L412.8 547.61L410.2 547.61Z" fill="#000" stroke="#000" stroke-width="0.5"/>
<path d="M412.8 544.24L414.1 546.71L411.5 546.71Z" fill="#000" stroke="#000" stroke-width="0.5"/>
<path d="M414.1 545.14L415.4 547.61L412.8 547.61Z" fill="#000" stroke="#000" stroke-width="0.5"/>
<path d="M415.4 544.24L416.7 546.71L414.1 546.71Z" fill="#000" stroke="#000" stroke-width="0.5"/>
<path d="M416.7 545.14L418 547.61L415.4 547.61Z" fill="#000" stroke="#000" stroke-width="0.5"/>
<path d="M418 544.24L419.3 546.71L416.7 546.71Z" fill="#000" stroke="#000" stroke-width="0.5"/>
<path d="M418.8 546.44L420.1 548.91L417.5 548.91Z" fill="#000" stroke="#000" stroke-width="0.5"/>
<path d="M419.2 540.24L420.5 542.71L417.9 542.71Z" fill="#000" stroke="#000" stroke-width="0.5"/>
<path d="M420.3 538.84L421.6 541.31L419 541.31Z" fill="#000" stroke="#000" stroke-width="0.5"/>
<path d="M421.8 537.84L423.1 540.31L420.5 540.31Z" fill="#000" stroke="#000" stroke-width="0.5"/>
<path d="M423.2 538.64L424.5 541.11L421.9 541.11Z" fill="#000" stroke="#000" stroke-width="0.5"/>
<path d="M424.6 537.64L425.9 540.11L423.3 540.11Z" fill="#000" stroke="#000" stroke-width="0.5"/>
<path d="M426.1 538.44L427.4 540.91L424.8 540.91Z" fill="#000" stroke="#000" stroke-width="0.5"/>
<path d="M427.5 537.44L428.8 539.91L426.2 539.91Z" fill="#000" stroke="#000" stroke-width="0.5"/>
<path d="M429 538.24L430.3 540.71L427.7 540.71Z" fill="#000" stroke="#000" stroke-width="0.5"/>
<path d="M430.4 537.24L431.7 539.71L429.1 539.71Z" fill="#000" stroke="#000" stroke-width="0.5"/>
<path d="M431.9 538.04L433.2 540.51L430.6 540.51Z" fill="#000" stroke="#000" stroke-width="0.5"/>
<path d="M433.3 537.04L434.6 539.51L432 539.51Z" fill="#000" stroke="#000" stroke-width="0.5"/>
<path d="M434.8 537.84L436.1 540.31L433.5 540.31Z" fill="#000" stroke="#000" stroke-width="0.5"/>
<path d="M436.2 536.84L437.5 539.31L434.9 539.31Z" fill="#000" stroke="#000" stroke-width="0.5"/>
<path d="M437.7 537.64L439 540.11L436.4 540.11Z" fill="#000" stroke="#000" stroke-width="0.5"/>
<path d="M439.1 536.64L440.4 539.11L437.8 539.11Z" fill="#000" stroke="#000" stroke-width="0.5"/>
<path d="M439.6 536.64L440.9 539.11L438.3 539.11Z" fill="#000" stroke="#000" stroke-width="0.5"/>
<path d="M440.9 522.64L442.2 525.11L439.6 525.11Z" fill="#000" stroke="#000" stroke-width="0.5"/>
<path d="M443.1 520.64L444.4 523.11L441.8 523.11Z" fill="#000" stroke="#000" stroke-width="0.5"/>
<path d="M445.2 520.14L446.5 522.61L443.9 522.61Z" fill="#000" stroke="#000" stroke-width="0.5"/>
<path d="M446.2 521.64L447.5 524.11L444.9 524.11Z" fill="#000" stroke="#000" stroke-width="0.5"/>
<path d="M448.2 533.94L449.5 536.41L446.9 536.41Z" fill="#000" stroke="#000" stroke-width="0.5"/>
<path d="M449.8 518.54L451.1 521.01L448.5 521.01Z" fill="#000" stroke="#000" stroke-width="0.5"/>
<path d="M451.6 516.44L452.9 518.91L450.3 518.91Z" fill="#000" stroke="#000" stroke-width="0.5"/>
<path d="M453.7 472.84L455 475.31L452.4 475.31Z" fill="#000" stroke="#000" stroke-width="0.5"/>
<path d="M458.3 507.04L459.6 509.51L457 509.51Z" fill="#000" stroke="#000" stroke-width="0.5"/>
<path d="M460.3 512.94L461.6 515.41L459 515.41Z" fill="#000" stroke="#000" stroke-width="0.5"/>
<path d="M462.5 476.24L463.8 478.71L461.2 478.71Z" fill="#000" stroke="#000" stroke-width="0.5"/>
<path d="M466.6 508.94L467.9 511.41L465.3 511.41Z" fill="#000" stroke="#000" stroke-width="0.5"/>
<path d="M468.8 465.94L470.1 468.41L467.5 468.41Z" fill="#000" stroke="#000" stroke-width="0.5"/>
<path d="M474 508.54L475.3 511.01L472.7 511.01Z" fill="#000" stroke="#000" stroke-width="0.5"/>
<path d="M475.8 467.44L477.1 469.91L474.5 469.91Z" fill="#000" stroke="#000" stroke-width="0.5"/>
<path d="M479.5 506.54L480.8 509.01L478.2 509.01Z" fill="#000" stroke="#000" stroke-width="0.5"/>
<path d="M482.4 502.54L483.7 505.01L481.1 505.01Z" fill="#000" stroke="#000" stroke-width="0.5"/>
<path d="M484.3 498.94L485.6 501.41L483 501.41Z" fill="#000" stroke="#000" stroke-width="0.5"/>
<path d="M486.3 501.54L487.6 504.01L485 504.01Z" fill="#000" stroke="#000" stroke-width="0.5"/>
<path d="M488.3 509.74L489.6 512.21L487 512.21Z" fill="#000" stroke="#000" stroke-width="0.5"/>
<path d="M490.9 464.44L492.2 466.91L489.6 466.91Z" fill="#000" stroke="#000" stroke-width="0.5"/>
<path d="M494.8 512.94L496.1 515.41L493.5 515.41Z" fill="#000" stroke="#000" stroke-width="0.5"/>
<path d="M497 461.44L498.3 463.91L495.7 463.91Z" fill="#000" stroke="#000" stroke-width="0.5"/>
<path d="M501.5 426.94L502.8 429.41L500.2 429.41Z" fill="#000" stroke="#000" stroke-width="0.5"/>
<path d="M505.5 477.54L506.8 480.01L504.2 480.01Z" fill="#000" stroke="#000" stroke-width="0.5"/>
<path d="M508.1 439.94L509.4 442.41L506.8 442.41Z" fill="#000" stroke="#000" stroke-width="0.5"/>
<path d="M511.1 469.34L512.4 471.81L509.8 471.81Z" fill="#000" stroke="#000" stroke-width="0.5"/>
<path d="M512.8 499.94L514.1 502.41L511.5 502.41Z" fill="#000" stroke="#000" stroke-width="0.5"/>
<path d="M514.5 364.94L515.8 367.41L513.2 367.41Z" fill="#000" stroke="#000" stroke-width="0.5"/>
<path d="M518.4 413.54L519.7 416.01L517.1 416.01Z" fill="#000" stroke="#000" stroke-width="0.5"/>
<path d="M522 380.74L523.3 383.21L520.7 383.21Z" fill="#000" stroke="#000" stroke-width="0.5"/>
<path d="M526.4 447.04L527.7 449.51L525.1 449.51Z" fill="#000" stroke="#000" stroke-width="0.5"/>
<path d="M528 492.14L529.3 494.61L526.7 494.61Z" fill="#000" stroke="#000" stroke-width="0.5"/>
<path d="M530.2 465.84L531.5 468.31L528.9 468.31Z" fill="#000" stroke="#000" stroke-width="0.5"/>
<path d="M531.5 457.94L532.8 460.41L530.2 460.41Z" fill="#000" stroke="#000" stroke-width="0.5"/>
<path d="M534 340.04L535.3 342.51L532.7 342.51Z" fill="#000" stroke="#000" stroke-width="0.5"/>
<path d="M538.7 467.24L540 469.71L537.4 469.71Z" fill="#000" stroke="#000" stroke-width="0.5"/>
<path d="M539.7 457.34L541 459.81L538.4 459.81Z" fill="#000" stroke="#000" stroke-width="0.5"/>
<path d="M542 475.64L543.3 478.11L540.7 478.11Z" fill="#000" stroke="#000" stroke-width="0.5"/>
<path d="M544.4 464.64L545.7 467.11L543.1 467.11Z" fill="#000" stroke="#000" stroke-width="0.5"/>
<path d="M546.6 467.64L547.9 470.11L545.3 470.11Z" fill="#000" stroke="#000" stroke-width="0.5"/>
<path d="M548.3 470.64L549.6 473.11L547 473.11Z" fill="#000" stroke="#000" stroke-width="0.5"/>
<path d="M550.6 471.84L551.9 474.31L549.3 474.31Z" fill="#000" stroke="#000" stroke-width="0.5"/>
<path d="M552.2 472.64L553.5 475.11L550.9 475.11Z" fill="#000" stroke="#000" stroke-width="0.5"/>
<path d="M552.7 480.14L554 482.61L551.4 482.61Z" fill="#000" stroke="#000" stroke-width="0.5"/>
<path d="M553.5 482.64L554.8 485.11L552.2 485.11Z" fill="#000" stroke="#000" stroke-width="0.5"/>
<path d="M554.1 506.54L555.4 509.01L552.8 509.01Z" fill="#000" stroke="#000" stroke-width="0.5"/>
<path d="M555.2 498.64L556.5 501.11L553.9 501.11Z" fill="#000" stroke="#000" stroke-width="0.5"/>
<path d="M556.6 489.64L557.9 492.11L555.3 492.11Z" fill="#000" stroke="#000" stroke-width="0.5"/>
<path d="M557.4 471.64L558.7 474.11L556.1 474.11Z" fill="#000" stroke="#000" stroke-width="0.5"/>
<path d="M558.5 400.64L559.8 403.11L557.2 403.11Z" fill="#000" stroke="#000" stroke-width="0.5"/>
<path d="M560.6 489.64L561.9 492.11L559.3 492.11Z" fill="#000" stroke="#000" stroke-width="0.5"/>
<path d="M561.4 491.64L562.7 494.11L560.1 494.11Z" fill="#000" stroke="#000" stroke-width="0.5"/>
<path d="M562.6 426.64L563.9 429.11L561.3 429.11Z" fill="#000" stroke="#000" stroke-width="0.5"/>
<path d="M564.5 477.64L565.8 480.11L563.2 480.11Z" fill="#000" stroke="#000" stroke-width="0.5"/>
<path d="M565.5 477.24L566.8 479.71L564.2 479.71Z" fill="#000" stroke="#000" stroke-width="0.5"/>
<path d="M566.5 447.64L567.8 450.11L565.2 450.11Z" fill="#000" stroke="#000" stroke-width="0.5"/>
<path d="M567.5 424.04L568.8 426.51L566.2 426.51Z" fill="#000" stroke="#000" stroke-width="0.5"/>
<path d="M569.4 478.64L570.7 481.11L568.1 481.11Z" fill="#000" stroke="#000" stroke-width="0.5"/>
<path d="M570.4 414.04L571.7 416.51L569.1 416.51Z" fill="#000" stroke="#000" stroke-width="0.5"/>
<path d="M572.8 422.04L574.1 424.51L571.5 424.51Z" fill="#000" stroke="#000" stroke-width="0.5"/>
<path d="M574.7 411.24L576 413.71L573.4 413.71Z" fill="#000" stroke="#000" stroke-width="0.5"/>
<path d="M576.9 401.14L578.2 403.61L575.6 403.61Z" fill="#000" stroke="#000" stroke-width="0.5"/>
<path d="M579.5 411.94L580.8 414.41L578.2 414.41Z" fill="#000" stroke="#000" stroke-width="0.5"/>
<path d="M581.4 424.04L582.7 426.51L580.1 426.51Z" fill="#000" stroke="#000" stroke-width="0.5"/>
<path d="M583.4 410.64L584.7 413.11L582.1 413.11Z" fill="#000" stroke="#000" stroke-width="0.5"/>
<path d="M585.2 505.64L586.5 508.11L583.9 508.11Z" fill="#000" stroke="#000" stroke-width="0.5"/>
<path d="M585.6 460.14L586.9 462.61L584.3 462.61Z" fill="#000" stroke="#000" stroke-width="0.5"/>
<path d="M586.8 460.44L588.1 462.91L585.5 462.91Z" fill="#000" stroke="#000" stroke-width="0.5"/>
<path d="M588.5 428.94L589.8 431.41L587.2 431.41Z" fill="#000" stroke="#000" stroke-width="0.5"/>
<path d="M590.2 485.54L591.5 488.01L588.9 488.01Z" fill="#000" stroke="#000" stroke-width="0.5"/>
<path d="M592.9 495.94L594.2 498.41L591.6 498.41Z" fill="#000" stroke="#000" stroke-width="0.5"/>
<path d="M595.5 456.84L596.8 459.31L594.2 459.31Z" fill="#000" stroke="#000" stroke-width="0.5"/>
<path d="M599.3 547.94L600.6 550.41L598 550.41Z" fill="#000" stroke="#000" stroke-width="0.5"/>
<path d="M600.5 547.94L601.8 550.41L599.2 550.41Z" fill="#000" stroke="#000" stroke-width="0.5"/>
<path d="M604.6 547.94L605.9 550.41L603.3 550.41Z" fill="#000" stroke="#000" stroke-width="0.5"/>
<path d="M610.4 547.94L611.7 550.41L609.1 550.41Z" fill="#000" stroke="#000" stroke-width="0.5"/>
<path d="M613.4 547.94L614.7 550.41L612.1 550.41Z" fill="#000" stroke="#000" stroke-width="0.5"/>
<path d="M618 547.94L619.3 550.41L616.7 550.41Z" fill="#000" stroke="#000" stroke-width="0.5"/>
<path d="M630.3 547.94L631.6 550.41L629 550.41Z" fill="#000" stroke="#000" stroke-width="0.5"/>
<rect x="397.5" y="343.5" width="37" height="15.5" fill="#fff" stroke="#000" stroke-width="1"/>
<line x1="403.1" y1="351.2" x2="419.8" y2="351.2" stroke="#000000" stroke-width="1.3"/>
<path d="M411.45 349.84L412.75 352.31L410.15 352.31Z" fill="#000" stroke="#000" stroke-width="0.5"/>
<text x="422.4" y="353.7" font-size="6.6">TC</text>
<text x="165.7" y="297" font-size="17.3" text-anchor="middle">(a). BB</text>
<text x="524.1" y="297" font-size="17.3" text-anchor="middle">(b). SD</text>
<text x="161.8" y="610.7" font-size="17.3" text-anchor="middle">(c). ALB</text>
<text x="520.5" y="610.4" font-size="17.3" text-anchor="middle">(d). TC</text>
</svg>
</body></html>
